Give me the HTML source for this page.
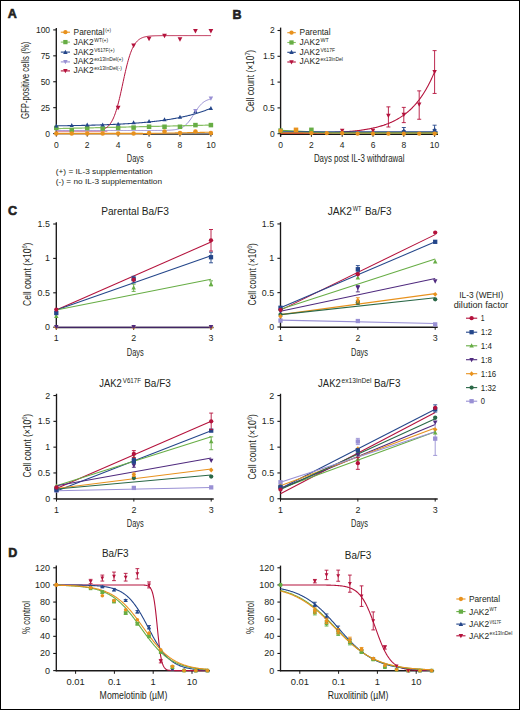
<!DOCTYPE html>
<html><head><meta charset="utf-8"><style>
html,body{margin:0;padding:0;background:#fff;}
body{width:520px;height:710px;overflow:hidden;}
svg{display:block;font-family:"Liberation Sans", sans-serif;}
text.b{stroke:#231f20;stroke-width:0.6px;}
</style></head><body>
<svg width="520" height="710" viewBox="0 0 520 710">
<rect x="0" y="0" width="520" height="710" fill="#fff"/>
<g fill="#231f20">
<text x="7.7" y="17.8" font-size="12.5" font-weight="bold" class="b">A</text>
<text x="232.5" y="18.7" font-size="12.5" font-weight="bold" class="b">B</text>
<text x="8" y="214.5" font-size="12.5" font-weight="bold" class="b">C</text>
<text x="8.2" y="557" font-size="12.5" font-weight="bold" class="b">D</text>
<line x1="56.3" y1="28" x2="56.3" y2="134.5" stroke="#1a1818" stroke-width="1.35"/>
<line x1="53.2" y1="133.6" x2="56.3" y2="133.6" stroke="#1a1818" stroke-width="1.1"/>
<text x="50.1" y="136.7" font-size="8.5" text-anchor="end">0</text>
<line x1="53.2" y1="107.67" x2="56.3" y2="107.67" stroke="#1a1818" stroke-width="1.1"/>
<text x="50.1" y="110.77" font-size="8.5" text-anchor="end">25</text>
<line x1="53.2" y1="81.75" x2="56.3" y2="81.75" stroke="#1a1818" stroke-width="1.1"/>
<text x="50.1" y="84.85" font-size="8.5" text-anchor="end">50</text>
<line x1="53.2" y1="55.83" x2="56.3" y2="55.83" stroke="#1a1818" stroke-width="1.1"/>
<text x="50.1" y="58.93" font-size="8.5" text-anchor="end">75</text>
<line x1="53.2" y1="29.9" x2="56.3" y2="29.9" stroke="#1a1818" stroke-width="1.1"/>
<text x="50.1" y="33" font-size="8.5" text-anchor="end">100</text>
<line x1="142.88" y1="134.1" x2="213" y2="134.1" stroke="#1a1818" stroke-width="1.3"/>
<line x1="55.6" y1="133.9" x2="142.88" y2="133.9" stroke="#1a1818" stroke-width="0.8"/>
<line x1="56.3" y1="134" x2="56.3" y2="136.6" stroke="#1a1818" stroke-width="1"/>
<text x="56.3" y="147.7" font-size="8.5" text-anchor="middle">0</text>
<line x1="87.22" y1="134" x2="87.22" y2="136.6" stroke="#1a1818" stroke-width="1"/>
<text x="87.22" y="147.7" font-size="8.5" text-anchor="middle">2</text>
<line x1="118.14" y1="134" x2="118.14" y2="136.6" stroke="#1a1818" stroke-width="1"/>
<text x="118.14" y="147.7" font-size="8.5" text-anchor="middle">4</text>
<line x1="149.06" y1="134" x2="149.06" y2="136.6" stroke="#1a1818" stroke-width="1"/>
<text x="149.06" y="147.7" font-size="8.5" text-anchor="middle">6</text>
<line x1="179.98" y1="134" x2="179.98" y2="136.6" stroke="#1a1818" stroke-width="1"/>
<text x="179.98" y="147.7" font-size="8.5" text-anchor="middle">8</text>
<line x1="210.9" y1="134" x2="210.9" y2="136.6" stroke="#1a1818" stroke-width="1"/>
<text x="210.9" y="147.7" font-size="8.5" text-anchor="middle">10</text>
<text x="135.3" y="161.6" font-size="10.5" text-anchor="middle" textLength="17" lengthAdjust="spacingAndGlyphs">Days</text>
<g transform="translate(29.4,119.1) rotate(-90)">
<text x="0" y="0" font-size="10.5" textLength="77.5" lengthAdjust="spacingAndGlyphs">GFP-positive cells (%)</text>
</g>
<path d="M56.3,131.21 L56.56,131.21 L56.81,131.21 L57.07,131.21 L57.32,131.21 L57.58,131.21 L57.83,131.21 L58.09,131.21 L58.34,131.21 L58.6,131.21 L58.85,131.21 L59.11,131.21 L59.36,131.21 L59.62,131.21 L59.87,131.21 L60.13,131.21 L60.38,131.21 L60.64,131.21 L60.89,131.21 L61.15,131.21 L61.4,131.21 L61.66,131.21 L61.91,131.21 L62.17,131.21 L62.42,131.21 L62.68,131.21 L62.93,131.21 L63.19,131.21 L63.44,131.21 L63.7,131.21 L63.95,131.21 L64.21,131.21 L64.46,131.21 L64.72,131.21 L64.97,131.21 L65.23,131.21 L65.48,131.21 L65.74,131.21 L65.99,131.21 L66.25,131.21 L66.5,131.21 L66.76,131.21 L67.01,131.21 L67.27,131.21 L67.52,131.21 L67.78,131.21 L68.03,131.21 L68.29,131.21 L68.54,131.21 L68.8,131.21 L69.05,131.21 L69.31,131.21 L69.56,131.21 L69.82,131.21 L70.07,131.21 L70.33,131.21 L70.59,131.21 L70.84,131.21 L71.1,131.21 L71.35,131.21 L71.61,131.21 L71.86,131.21 L72.12,131.21 L72.37,131.21 L72.63,131.21 L72.88,131.21 L73.14,131.21 L73.39,131.21 L73.65,131.21 L73.9,131.21 L74.16,131.21 L74.41,131.21 L74.67,131.21 L74.92,131.21 L75.18,131.21 L75.43,131.21 L75.69,131.21 L75.94,131.21 L76.2,131.21 L76.45,131.21 L76.71,131.21 L76.96,131.21 L77.22,131.21 L77.47,131.21 L77.73,131.21 L77.98,131.21 L78.24,131.21 L78.49,131.21 L78.75,131.21 L79,131.21 L79.26,131.21 L79.51,131.21 L79.77,131.21 L80.02,131.21 L80.28,131.21 L80.53,131.21 L80.79,131.21 L81.04,131.21 L81.3,131.21 L81.55,131.21 L81.81,131.21 L82.06,131.21 L82.32,131.21 L82.57,131.21 L82.83,131.21 L83.08,131.21 L83.34,131.21 L83.59,131.21 L83.85,131.21 L84.1,131.21 L84.36,131.21 L84.61,131.21 L84.87,131.21 L85.13,131.21 L85.38,131.21 L85.64,131.21 L85.89,131.21 L86.15,131.21 L86.4,131.21 L86.66,131.21 L86.91,131.21 L87.17,131.21 L87.42,131.21 L87.68,131.21 L87.93,131.21 L88.19,131.21 L88.44,131.21 L88.7,131.21 L88.95,131.21 L89.21,131.21 L89.46,131.21 L89.72,131.21 L89.97,131.21 L90.23,131.21 L90.48,131.21 L90.74,131.21 L90.99,131.21 L91.25,131.21 L91.5,131.21 L91.76,131.21 L92.01,131.21 L92.27,131.21 L92.52,131.21 L92.78,131.21 L93.03,131.21 L93.29,131.21 L93.54,131.21 L93.8,131.21 L94.05,131.21 L94.31,131.21 L94.56,131.21 L94.82,131.21 L95.07,131.21 L95.33,131.21 L95.58,131.21 L95.84,131.21 L96.09,131.21 L96.35,131.21 L96.6,131.21 L96.86,131.21 L97.11,131.21 L97.37,131.21 L97.62,131.21 L97.88,131.21 L98.13,131.21 L98.39,131.21 L98.64,131.21 L98.9,131.21 L99.16,131.21 L99.41,131.21 L99.67,131.21 L99.92,131.21 L100.18,131.21 L100.43,131.21 L100.69,131.21 L100.94,131.21 L101.2,131.21 L101.45,131.21 L101.71,131.21 L101.96,131.21 L102.22,131.21 L102.47,131.21 L102.73,131.21 L102.98,131.21 L103.24,131.21 L103.49,131.21 L103.75,131.21 L104,131.21 L104.26,131.21 L104.51,131.21 L104.77,131.21 L105.02,131.21 L105.28,131.21 L105.53,131.21 L105.79,131.21 L106.04,131.21 L106.3,131.21 L106.55,131.21 L106.81,131.21 L107.06,131.21 L107.32,131.21" fill="none" stroke="#c0406a" stroke-width="1" stroke-linejoin="round"/>
<path d="M56.3,130.49 L57.07,130.49 L57.85,130.49 L58.62,130.49 L59.39,130.49 L60.16,130.49 L60.94,130.49 L61.71,130.49 L62.48,130.49 L63.26,130.49 L64.03,130.49 L64.8,130.49 L65.58,130.49 L66.35,130.49 L67.12,130.49 L67.89,130.49 L68.67,130.49 L69.44,130.49 L70.21,130.49 L70.99,130.49 L71.76,130.49 L72.53,130.49 L73.31,130.49 L74.08,130.49 L74.85,130.49 L75.62,130.49 L76.4,130.49 L77.17,130.49 L77.94,130.49 L78.72,130.49 L79.49,130.49 L80.26,130.49 L81.04,130.49 L81.81,130.49 L82.58,130.49 L83.35,130.49 L84.13,130.49 L84.9,130.49 L85.67,130.49 L86.45,130.49 L87.22,130.49 L87.99,130.49 L88.77,130.49 L89.54,130.49 L90.31,130.49 L91.09,130.49 L91.86,130.49 L92.63,130.49 L93.4,130.49 L94.18,130.49 L94.95,130.49 L95.72,130.49 L96.5,130.49 L97.27,130.49 L98.04,130.49 L98.81,130.49 L99.59,130.49 L100.36,130.49 L101.13,130.49 L101.91,130.49 L102.68,130.49 L103.45,130.49 L104.23,130.49 L105,130.49 L105.77,130.49 L106.55,130.49 L107.32,130.49 L108.09,130.49 L108.86,130.49 L109.64,130.49 L110.41,130.49 L111.18,130.49 L111.96,130.49 L112.73,130.49 L113.5,130.49 L114.28,130.49 L115.05,130.49 L115.82,130.49 L116.59,130.49 L117.37,130.49 L118.14,130.49 L118.91,130.49 L119.69,130.49 L120.46,130.49 L121.23,130.49 L122,130.49 L122.78,130.49 L123.55,130.49 L124.32,130.49 L125.1,130.49 L125.87,130.49 L126.64,130.49 L127.42,130.49 L128.19,130.49 L128.96,130.49 L129.74,130.49 L130.51,130.49 L131.28,130.49 L132.05,130.49 L132.83,130.49 L133.6,130.49 L134.37,130.49 L135.15,130.49 L135.92,130.49 L136.69,130.49 L137.47,130.49 L138.24,130.49 L139.01,130.49 L139.78,130.49 L140.56,130.49 L141.33,130.49 L142.1,130.49 L142.88,130.49 L143.65,130.49 L144.42,130.49 L145.19,130.49 L145.97,130.49 L146.74,130.49 L147.51,130.48 L148.29,130.48 L149.06,130.48 L149.83,130.48 L150.61,130.48 L151.38,130.48 L152.15,130.48 L152.93,130.48 L153.7,130.48 L154.47,130.47 L155.24,130.47 L156.02,130.47 L156.79,130.46 L157.56,130.46 L158.34,130.46 L159.11,130.45 L159.88,130.44 L160.66,130.44 L161.43,130.43 L162.2,130.42 L162.97,130.41 L163.75,130.4 L164.52,130.38 L165.29,130.36 L166.07,130.34 L166.84,130.32 L167.61,130.29 L168.38,130.26 L169.16,130.22 L169.93,130.18 L170.7,130.13 L171.48,130.07 L172.25,130.01 L173.02,129.93 L173.8,129.84 L174.57,129.74 L175.34,129.62 L176.12,129.48 L176.89,129.33 L177.66,129.15 L178.43,128.94 L179.21,128.7 L179.98,128.43 L180.75,128.12 L181.53,127.77 L182.3,127.37 L183.07,126.93 L183.84,126.42 L184.62,125.86 L185.39,125.23 L186.16,124.53 L186.94,123.76 L187.71,122.93 L188.48,122.02 L189.26,121.05 L190.03,120.01 L190.8,118.91 L191.57,117.77 L192.35,116.59 L193.12,115.38 L193.89,114.16 L194.67,112.93 L195.44,111.72 L196.21,110.54 L196.99,109.4 L197.76,108.3 L198.53,107.27 L199.31,106.29 L200.08,105.38 L200.85,104.55 L201.62,103.78 L202.4,103.09 L203.17,102.46 L203.94,101.89 L204.72,101.39 L205.49,100.94 L206.26,100.54 L207.04,100.19 L207.81,99.88 L208.58,99.61 L209.35,99.37 L210.13,99.17 L210.9,98.99" fill="none" stroke="#9990d4" stroke-width="1" stroke-linejoin="round"/>
<path d="M56.3,128.62 L57.07,128.6 L57.85,128.59 L58.62,128.57 L59.39,128.55 L60.16,128.53 L60.94,128.52 L61.71,128.5 L62.48,128.48 L63.26,128.46 L64.03,128.45 L64.8,128.43 L65.58,128.41 L66.35,128.39 L67.12,128.38 L67.89,128.36 L68.67,128.34 L69.44,128.32 L70.21,128.31 L70.99,128.29 L71.76,128.27 L72.53,128.25 L73.31,128.23 L74.08,128.22 L74.85,128.2 L75.62,128.18 L76.4,128.16 L77.17,128.15 L77.94,128.13 L78.72,128.11 L79.49,128.09 L80.26,128.08 L81.04,128.06 L81.81,128.04 L82.58,128.02 L83.35,128.01 L84.13,127.99 L84.9,127.97 L85.67,127.95 L86.45,127.93 L87.22,127.92 L87.99,127.9 L88.77,127.88 L89.54,127.86 L90.31,127.85 L91.09,127.83 L91.86,127.81 L92.63,127.79 L93.4,127.78 L94.18,127.76 L94.95,127.74 L95.72,127.72 L96.5,127.71 L97.27,127.69 L98.04,127.67 L98.81,127.65 L99.59,127.64 L100.36,127.62 L101.13,127.6 L101.91,127.58 L102.68,127.56 L103.45,127.55 L104.23,127.53 L105,127.51 L105.77,127.49 L106.55,127.48 L107.32,127.46 L108.09,127.44 L108.86,127.42 L109.64,127.41 L110.41,127.39 L111.18,127.37 L111.96,127.35 L112.73,127.34 L113.5,127.32 L114.28,127.3 L115.05,127.28 L115.82,127.26 L116.59,127.25 L117.37,127.23 L118.14,127.21 L118.91,127.19 L119.69,127.18 L120.46,127.16 L121.23,127.14 L122,127.12 L122.78,127.11 L123.55,127.09 L124.32,127.07 L125.1,127.05 L125.87,127.04 L126.64,127.02 L127.42,127 L128.19,126.98 L128.96,126.97 L129.74,126.95 L130.51,126.93 L131.28,126.91 L132.05,126.89 L132.83,126.88 L133.6,126.86 L134.37,126.84 L135.15,126.82 L135.92,126.81 L136.69,126.79 L137.47,126.77 L138.24,126.75 L139.01,126.74 L139.78,126.72 L140.56,126.7 L141.33,126.68 L142.1,126.67 L142.88,126.65 L143.65,126.63 L144.42,126.61 L145.19,126.6 L145.97,126.58 L146.74,126.56 L147.51,126.54 L148.29,126.52 L149.06,126.51 L149.83,126.49 L150.61,126.47 L151.38,126.45 L152.15,126.44 L152.93,126.42 L153.7,126.4 L154.47,126.38 L155.24,126.37 L156.02,126.35 L156.79,126.33 L157.56,126.31 L158.34,126.3 L159.11,126.28 L159.88,126.26 L160.66,126.24 L161.43,126.22 L162.2,126.21 L162.97,126.19 L163.75,126.17 L164.52,126.15 L165.29,126.14 L166.07,126.12 L166.84,126.1 L167.61,126.08 L168.38,126.07 L169.16,126.05 L169.93,126.03 L170.7,126.01 L171.48,126 L172.25,125.98 L173.02,125.96 L173.8,125.94 L174.57,125.93 L175.34,125.91 L176.12,125.89 L176.89,125.87 L177.66,125.85 L178.43,125.84 L179.21,125.82 L179.98,125.8 L180.75,125.78 L181.53,125.77 L182.3,125.75 L183.07,125.73 L183.84,125.71 L184.62,125.7 L185.39,125.68 L186.16,125.66 L186.94,125.64 L187.71,125.63 L188.48,125.61 L189.26,125.59 L190.03,125.57 L190.8,125.55 L191.57,125.54 L192.35,125.52 L193.12,125.5 L193.89,125.48 L194.67,125.47 L195.44,125.45 L196.21,125.43 L196.99,125.41 L197.76,125.4 L198.53,125.38 L199.31,125.36 L200.08,125.34 L200.85,125.33 L201.62,125.31 L202.4,125.29 L203.17,125.27 L203.94,125.26 L204.72,125.24 L205.49,125.22 L206.26,125.2 L207.04,125.18 L207.81,125.17 L208.58,125.15 L209.35,125.13 L210.13,125.11 L210.9,125.1" fill="none" stroke="#86c063" stroke-width="1.2" stroke-linejoin="round"/>
<path d="M56.3,125.82 L57.07,125.81 L57.85,125.8 L58.62,125.79 L59.39,125.78 L60.16,125.77 L60.94,125.76 L61.71,125.75 L62.48,125.74 L63.26,125.73 L64.03,125.72 L64.8,125.71 L65.58,125.7 L66.35,125.69 L67.12,125.68 L67.89,125.66 L68.67,125.65 L69.44,125.64 L70.21,125.63 L70.99,125.61 L71.76,125.6 L72.53,125.59 L73.31,125.57 L74.08,125.56 L74.85,125.55 L75.62,125.53 L76.4,125.52 L77.17,125.5 L77.94,125.49 L78.72,125.47 L79.49,125.46 L80.26,125.44 L81.04,125.43 L81.81,125.41 L82.58,125.39 L83.35,125.38 L84.13,125.36 L84.9,125.34 L85.67,125.32 L86.45,125.3 L87.22,125.29 L87.99,125.27 L88.77,125.25 L89.54,125.23 L90.31,125.21 L91.09,125.19 L91.86,125.17 L92.63,125.15 L93.4,125.13 L94.18,125.1 L94.95,125.08 L95.72,125.06 L96.5,125.04 L97.27,125.01 L98.04,124.99 L98.81,124.96 L99.59,124.94 L100.36,124.91 L101.13,124.89 L101.91,124.86 L102.68,124.84 L103.45,124.81 L104.23,124.78 L105,124.75 L105.77,124.73 L106.55,124.7 L107.32,124.67 L108.09,124.64 L108.86,124.61 L109.64,124.58 L110.41,124.54 L111.18,124.51 L111.96,124.48 L112.73,124.45 L113.5,124.41 L114.28,124.38 L115.05,124.34 L115.82,124.31 L116.59,124.27 L117.37,124.23 L118.14,124.2 L118.91,124.16 L119.69,124.12 L120.46,124.08 L121.23,124.04 L122,124 L122.78,123.95 L123.55,123.91 L124.32,123.87 L125.1,123.82 L125.87,123.78 L126.64,123.73 L127.42,123.69 L128.19,123.64 L128.96,123.59 L129.74,123.54 L130.51,123.49 L131.28,123.44 L132.05,123.39 L132.83,123.34 L133.6,123.28 L134.37,123.23 L135.15,123.17 L135.92,123.11 L136.69,123.06 L137.47,123 L138.24,122.94 L139.01,122.88 L139.78,122.81 L140.56,122.75 L141.33,122.69 L142.1,122.62 L142.88,122.56 L143.65,122.49 L144.42,122.42 L145.19,122.35 L145.97,122.28 L146.74,122.2 L147.51,122.13 L148.29,122.05 L149.06,121.98 L149.83,121.9 L150.61,121.82 L151.38,121.74 L152.15,121.66 L152.93,121.57 L153.7,121.49 L154.47,121.4 L155.24,121.31 L156.02,121.22 L156.79,121.13 L157.56,121.04 L158.34,120.94 L159.11,120.85 L159.88,120.75 L160.66,120.65 L161.43,120.54 L162.2,120.44 L162.97,120.34 L163.75,120.23 L164.52,120.12 L165.29,120.01 L166.07,119.89 L166.84,119.78 L167.61,119.66 L168.38,119.54 L169.16,119.42 L169.93,119.3 L170.7,119.17 L171.48,119.04 L172.25,118.91 L173.02,118.78 L173.8,118.64 L174.57,118.5 L175.34,118.36 L176.12,118.22 L176.89,118.07 L177.66,117.93 L178.43,117.78 L179.21,117.62 L179.98,117.47 L180.75,117.31 L181.53,117.15 L182.3,116.98 L183.07,116.81 L183.84,116.64 L184.62,116.47 L185.39,116.29 L186.16,116.11 L186.94,115.93 L187.71,115.74 L188.48,115.55 L189.26,115.36 L190.03,115.16 L190.8,114.96 L191.57,114.76 L192.35,114.55 L193.12,114.34 L193.89,114.13 L194.67,113.91 L195.44,113.68 L196.21,113.46 L196.99,113.23 L197.76,112.99 L198.53,112.75 L199.31,112.51 L200.08,112.26 L200.85,112.01 L201.62,111.75 L202.4,111.49 L203.17,111.23 L203.94,110.96 L204.72,110.68 L205.49,110.4 L206.26,110.11 L207.04,109.82 L207.81,109.53 L208.58,109.23 L209.35,108.92 L210.13,108.61 L210.9,108.29" fill="none" stroke="#24468a" stroke-width="1.1" stroke-linejoin="round"/>
<path d="M102.68,129.62 L103.22,129.42 L103.76,129.19 L104.3,128.94 L104.84,128.66 L105.39,128.35 L105.93,128.01 L106.47,127.64 L107.01,127.23 L107.55,126.78 L108.09,126.28 L108.63,125.74 L109.17,125.14 L109.71,124.48 L110.26,123.76 L110.8,122.98 L111.34,122.13 L111.88,121.2 L112.42,120.19 L112.96,119.1 L113.5,117.92 L114.04,116.65 L114.58,115.28 L115.13,113.81 L115.67,112.24 L116.21,110.58 L116.75,108.81 L117.29,106.94 L117.83,104.97 L118.37,102.9 L118.91,100.75 L119.45,98.52 L120,96.21 L120.54,93.83 L121.08,91.41 L121.62,88.94 L122.16,86.44 L122.7,83.92 L123.24,81.41 L123.78,78.9 L124.32,76.42 L124.87,73.98 L125.41,71.59 L125.95,69.26 L126.49,67.01 L127.03,64.83 L127.57,62.74 L128.11,60.75 L128.65,58.85 L129.19,57.05 L129.74,55.35 L130.28,53.76 L130.82,52.26 L131.36,50.86 L131.9,49.56 L132.44,48.36 L132.98,47.24 L133.52,46.21 L134.06,45.26 L134.6,44.38 L135.15,43.58 L135.69,42.85 L136.23,42.17 L136.77,41.56 L137.31,41 L137.85,40.49 L138.39,40.02 L138.93,39.6 L139.47,39.22 L140.02,38.87 L140.56,38.55 L141.1,38.27 L141.64,38.01 L142.18,37.78 L142.72,37.56 L143.26,37.37 L143.8,37.2 L144.34,37.04 L144.89,36.9 L145.43,36.77 L145.97,36.66 L146.51,36.55 L147.05,36.46 L147.59,36.37 L148.13,36.3 L148.67,36.23 L149.21,36.17 L149.76,36.11 L150.3,36.06 L150.84,36.02 L151.38,35.97 L151.92,35.94 L152.46,35.9 L153,35.87 L153.54,35.85 L154.08,35.82 L154.63,35.8 L155.17,35.78 L155.71,35.76 L156.25,35.75 L156.79,35.73 L157.33,35.72 L157.87,35.71 L158.41,35.7 L158.95,35.69 L159.5,35.68 L160.04,35.67 L160.58,35.67 L161.12,35.66 L161.66,35.65 L162.2,35.65 L162.74,35.64 L163.28,35.64 L163.82,35.64 L164.37,35.63 L164.91,35.63 L165.45,35.63 L165.99,35.63 L166.53,35.62 L167.07,35.62 L167.61,35.62 L168.15,35.62 L168.69,35.62 L169.24,35.62 L169.78,35.61 L170.32,35.61 L170.86,35.61 L171.4,35.61 L171.94,35.61 L172.48,35.61 L173.02,35.61 L173.56,35.61 L174.11,35.61 L174.65,35.61 L175.19,35.61 L175.73,35.61 L176.27,35.61 L176.81,35.61 L177.35,35.61 L177.89,35.61 L178.43,35.61 L178.98,35.61 L179.52,35.61 L180.06,35.6 L180.6,35.6 L181.14,35.6 L181.68,35.6 L182.22,35.6 L182.76,35.6 L183.3,35.6 L183.84,35.6 L184.39,35.6 L184.93,35.6 L185.47,35.6 L186.01,35.6 L186.55,35.6 L187.09,35.6 L187.63,35.6 L188.17,35.6 L188.71,35.6 L189.26,35.6 L189.8,35.6 L190.34,35.6 L190.88,35.6 L191.42,35.6 L191.96,35.6 L192.5,35.6 L193.04,35.6 L193.58,35.6 L194.13,35.6 L194.67,35.6 L195.21,35.6 L195.75,35.6 L196.29,35.6 L196.83,35.6 L197.37,35.6 L197.91,35.6 L198.45,35.6 L199,35.6 L199.54,35.6 L200.08,35.6 L200.62,35.6 L201.16,35.6 L201.7,35.6 L202.24,35.6 L202.78,35.6 L203.32,35.6 L203.87,35.6 L204.41,35.6 L204.95,35.6 L205.49,35.6 L206.03,35.6 L206.57,35.6 L207.11,35.6 L207.65,35.6 L208.19,35.6 L208.74,35.6 L209.28,35.6 L209.82,35.6 L210.36,35.6 L210.9,35.6" fill="none" stroke="#b4123c" stroke-width="1" stroke-linejoin="round"/>
<path d="M56.3,133.6 L56.73,133.6 L57.17,133.6 L57.6,133.6 L58.03,133.6 L58.46,133.6 L58.9,133.6 L59.33,133.6 L59.76,133.6 L60.2,133.6 L60.63,133.6 L61.06,133.6 L61.49,133.6 L61.93,133.6 L62.36,133.6 L62.79,133.6 L63.23,133.6 L63.66,133.6 L64.09,133.6 L64.52,133.6 L64.96,133.6 L65.39,133.6 L65.82,133.6 L66.26,133.6 L66.69,133.6 L67.12,133.6 L67.55,133.6 L67.99,133.6 L68.42,133.6 L68.85,133.6 L69.29,133.6 L69.72,133.6 L70.15,133.6 L70.59,133.6 L71.02,133.6 L71.45,133.6 L71.88,133.6 L72.32,133.6 L72.75,133.6 L73.18,133.6 L73.62,133.6 L74.05,133.6 L74.48,133.6 L74.91,133.6 L75.35,133.6 L75.78,133.6 L76.21,133.6 L76.65,133.6 L77.08,133.6 L77.51,133.6 L77.94,133.6 L78.38,133.6 L78.81,133.6 L79.24,133.6 L79.68,133.6 L80.11,133.6 L80.54,133.6 L80.97,133.6 L81.41,133.6 L81.84,133.6 L82.27,133.6 L82.71,133.6 L83.14,133.6 L83.57,133.6 L84,133.6 L84.44,133.6 L84.87,133.6 L85.3,133.6 L85.74,133.6 L86.17,133.6 L86.6,133.6 L87.03,133.6 L87.47,133.6 L87.9,133.6 L88.33,133.6 L88.77,133.6 L89.2,133.6 L89.63,133.6 L90.06,133.6 L90.5,133.6 L90.93,133.6 L91.36,133.6 L91.8,133.6 L92.23,133.6 L92.66,133.6 L93.09,133.6 L93.53,133.6 L93.96,133.6 L94.39,133.6 L94.83,133.6 L95.26,133.6 L95.69,133.6 L96.12,133.6 L96.56,133.6 L96.99,133.6 L97.42,133.6 L97.86,133.6 L98.29,133.6 L98.72,133.6 L99.16,133.6 L99.59,133.6 L100.02,133.6 L100.45,133.6 L100.89,133.6 L101.32,133.6 L101.75,133.6 L102.19,133.6 L102.62,133.6 L103.05,133.6 L103.48,133.6 L103.92,133.6 L104.35,133.6 L104.78,133.6 L105.22,133.6 L105.65,133.6 L106.08,133.6 L106.51,133.6 L106.95,133.6 L107.38,133.6 L107.81,133.6 L108.25,133.6 L108.68,133.6 L109.11,133.6 L109.54,133.6 L109.98,133.6 L110.41,133.6 L110.84,133.6 L111.28,133.6 L111.71,133.6 L112.14,133.6 L112.57,133.6 L113.01,133.6 L113.44,133.6 L113.87,133.6 L114.31,133.6 L114.74,133.6 L115.17,133.6 L115.6,133.6 L116.04,133.6 L116.47,133.6 L116.9,133.6 L117.34,133.6 L117.77,133.6 L118.2,133.6 L118.63,133.6 L119.07,133.6 L119.5,133.6 L119.93,133.6 L120.37,133.6 L120.8,133.6 L121.23,133.6 L121.66,133.6 L122.1,133.6 L122.53,133.6 L122.96,133.6 L123.4,133.6 L123.83,133.6 L124.26,133.6 L124.7,133.6 L125.13,133.6 L125.56,133.6 L125.99,133.6 L126.43,133.6 L126.86,133.6 L127.29,133.6 L127.73,133.6 L128.16,133.6 L128.59,133.6 L129.02,133.6 L129.46,133.6 L129.89,133.6 L130.32,133.6 L130.76,133.6 L131.19,133.6 L131.62,133.6 L132.05,133.6 L132.49,133.6 L132.92,133.6 L133.35,133.6 L133.79,133.6 L134.22,133.6 L134.65,133.6 L135.08,133.6 L135.52,133.6 L135.95,133.6 L136.38,133.6 L136.82,133.6 L137.25,133.6 L137.68,133.6 L138.11,133.6 L138.55,133.6 L138.98,133.6 L139.41,133.6 L139.85,133.6 L140.28,133.6 L140.71,133.6 L141.14,133.6 L141.58,133.6 L142.01,133.59 L142.44,133.58 L142.88,133.57" fill="none" stroke="#e8921e" stroke-width="1.5" stroke-linejoin="round"/>
<path d="M139.78,133.6 L140.14,133.6 L140.5,133.6 L140.85,133.6 L141.21,133.6 L141.56,133.6 L141.92,133.59 L142.27,133.58 L142.63,133.57 L142.98,133.57 L143.34,133.56 L143.7,133.55 L144.05,133.55 L144.41,133.54 L144.76,133.53 L145.12,133.52 L145.47,133.52 L145.83,133.51 L146.18,133.5 L146.54,133.5 L146.9,133.49 L147.25,133.48 L147.61,133.47 L147.96,133.47 L148.32,133.46 L148.67,133.45 L149.03,133.45 L149.38,133.44 L149.74,133.43 L150.1,133.42 L150.45,133.42 L150.81,133.41 L151.16,133.4 L151.52,133.39 L151.87,133.39 L152.23,133.38 L152.58,133.37 L152.94,133.37 L153.3,133.36 L153.65,133.35 L154.01,133.34 L154.36,133.34 L154.72,133.33 L155.07,133.32 L155.43,133.32 L155.79,133.31 L156.14,133.3 L156.5,133.29 L156.85,133.29 L157.21,133.28 L157.56,133.27 L157.92,133.27 L158.27,133.26 L158.63,133.25 L158.99,133.24 L159.34,133.24 L159.7,133.23 L160.05,133.22 L160.41,133.22 L160.76,133.21 L161.12,133.2 L161.47,133.19 L161.83,133.19 L162.19,133.18 L162.54,133.17 L162.9,133.17 L163.25,133.16 L163.61,133.15 L163.96,133.14 L164.32,133.14 L164.67,133.13 L165.03,133.12 L165.39,133.12 L165.74,133.11 L166.1,133.1 L166.45,133.09 L166.81,133.09 L167.16,133.08 L167.52,133.07 L167.87,133.07 L168.23,133.06 L168.59,133.05 L168.94,133.04 L169.3,133.04 L169.65,133.03 L170.01,133.02 L170.36,133.02 L170.72,133.01 L171.08,133 L171.43,132.99 L171.79,132.99 L172.14,132.98 L172.5,132.97 L172.85,132.97 L173.21,132.96 L173.56,132.95 L173.92,132.94 L174.28,132.94 L174.63,132.93 L174.99,132.92 L175.34,132.92 L175.7,132.91 L176.05,132.9 L176.41,132.89 L176.76,132.89 L177.12,132.88 L177.48,132.87 L177.83,132.87 L178.19,132.86 L178.54,132.85 L178.9,132.84 L179.25,132.84 L179.61,132.83 L179.96,132.82 L180.32,132.82 L180.68,132.81 L181.03,132.8 L181.39,132.79 L181.74,132.79 L182.1,132.78 L182.45,132.77 L182.81,132.77 L183.16,132.76 L183.52,132.75 L183.88,132.74 L184.23,132.74 L184.59,132.73 L184.94,132.72 L185.3,132.72 L185.65,132.71 L186.01,132.7 L186.36,132.69 L186.72,132.69 L187.08,132.68 L187.43,132.67 L187.79,132.67 L188.14,132.66 L188.5,132.65 L188.85,132.64 L189.21,132.64 L189.57,132.63 L189.92,132.62 L190.28,132.62 L190.63,132.61 L190.99,132.6 L191.34,132.59 L191.7,132.59 L192.05,132.58 L192.41,132.57 L192.77,132.56 L193.12,132.56 L193.48,132.55 L193.83,132.54 L194.19,132.54 L194.54,132.53 L194.9,132.52 L195.25,132.51 L195.61,132.51 L195.97,132.5 L196.32,132.49 L196.68,132.49 L197.03,132.48 L197.39,132.47 L197.74,132.46 L198.1,132.46 L198.45,132.45 L198.81,132.44 L199.17,132.44 L199.52,132.43 L199.88,132.42 L200.23,132.41 L200.59,132.41 L200.94,132.4 L201.3,132.39 L201.65,132.39 L202.01,132.38 L202.37,132.37 L202.72,132.36 L203.08,132.36 L203.43,132.35 L203.79,132.34 L204.14,132.34 L204.5,132.33 L204.86,132.32 L205.21,132.31 L205.57,132.31 L205.92,132.3 L206.28,132.29 L206.63,132.29 L206.99,132.28 L207.34,132.27 L207.7,132.26 L208.06,132.26 L208.41,132.25 L208.77,132.24 L209.12,132.24 L209.48,132.23 L209.83,132.22 L210.19,132.21 L210.54,132.21 L210.9,132.2" fill="none" stroke="#e8921e" stroke-width="1.1" stroke-linejoin="round"/>
<rect x="54.04" y="125.64" width="4.52" height="4.52" fill="#67ad45"/>
<rect x="69.5" y="127.81" width="4.52" height="4.52" fill="#67ad45"/>
<rect x="84.96" y="125.84" width="4.52" height="4.52" fill="#67ad45"/>
<rect x="100.42" y="126.26" width="4.52" height="4.52" fill="#67ad45"/>
<rect x="115.88" y="125.64" width="4.52" height="4.52" fill="#67ad45"/>
<rect x="131.34" y="125.33" width="4.52" height="4.52" fill="#67ad45"/>
<rect x="146.8" y="124.5" width="4.52" height="4.52" fill="#67ad45"/>
<rect x="162.26" y="124.5" width="4.52" height="4.52" fill="#67ad45"/>
<rect x="177.72" y="124.5" width="4.52" height="4.52" fill="#67ad45"/>
<rect x="193.18" y="122.84" width="4.52" height="4.52" fill="#67ad45"/>
<rect x="208.64" y="122.84" width="4.52" height="4.52" fill="#67ad45"/>
<path d="M56.3,123.65 L58.38,127.61 L54.22,127.61 Z" fill="#24468a"/>
<path d="M71.76,123.03 L73.84,126.98 L69.68,126.98 Z" fill="#24468a"/>
<path d="M87.22,122.62 L89.3,126.57 L85.14,126.57 Z" fill="#24468a"/>
<path d="M102.68,122.51 L104.76,126.47 L100.6,126.47 Z" fill="#24468a"/>
<path d="M118.14,121.68 L120.22,125.64 L116.06,125.64 Z" fill="#24468a"/>
<path d="M133.6,120.33 L135.68,124.29 L131.52,124.29 Z" fill="#24468a"/>
<path d="M149.06,119.09 L151.14,123.04 L146.98,123.04 Z" fill="#24468a"/>
<path d="M164.52,117.33 L166.6,121.28 L162.44,121.28 Z" fill="#24468a"/>
<path d="M179.98,114.73 L182.06,118.69 L177.9,118.69 Z" fill="#24468a"/>
<path d="M195.44,109.03 L197.52,112.99 L193.36,112.99 Z" fill="#24468a"/>
<path d="M210.9,106.02 L212.98,109.98 L208.82,109.98 Z" fill="#24468a"/>
<path d="M195.44,113.26 L197.69,108.96 L193.19,108.96 Z" fill="#9990d4"/>
<path d="M210.9,100.81 L213.15,96.52 L208.65,96.52 Z" fill="#9990d4"/>
<path d="M118.14,110.27 L120.51,105.75 L115.77,105.75 Z" fill="#b4123c"/>
<path d="M133.6,48.05 L135.97,43.53 L131.23,43.53 Z" fill="#b4123c"/>
<path d="M149.06,41.31 L151.43,36.79 L146.69,36.79 Z" fill="#b4123c"/>
<path d="M164.52,38.2 L166.89,33.68 L162.15,33.68 Z" fill="#b4123c"/>
<path d="M179.98,41.83 L182.35,37.31 L177.61,37.31 Z" fill="#b4123c"/>
<path d="M195.44,33.54 L197.81,29.02 L193.07,29.02 Z" fill="#b4123c"/>
<path d="M210.9,33.54 L213.27,29.02 L208.53,29.02 Z" fill="#b4123c"/>
<circle cx="56.3" cy="133.6" r="2.26" fill="#e8921e"/>
<circle cx="71.76" cy="133.6" r="2.26" fill="#e8921e"/>
<circle cx="87.22" cy="133.6" r="2.26" fill="#e8921e"/>
<circle cx="102.68" cy="133.6" r="2.26" fill="#e8921e"/>
<circle cx="118.14" cy="133.6" r="2.26" fill="#e8921e"/>
<circle cx="133.6" cy="133.6" r="2.26" fill="#e8921e"/>
<circle cx="149.06" cy="133.08" r="2.26" fill="#e8921e"/>
<circle cx="164.52" cy="131.53" r="2.26" fill="#e8921e"/>
<circle cx="179.98" cy="132.98" r="2.26" fill="#e8921e"/>
<circle cx="195.44" cy="131.53" r="2.26" fill="#e8921e"/>
<circle cx="210.9" cy="132.98" r="2.26" fill="#e8921e"/>
<line x1="60.8" y1="32.2" x2="70" y2="32.2" stroke="#e8921e" stroke-width="1.1"/>
<circle cx="65.4" cy="32.2" r="2.15" fill="#e8921e"/>
<text x="73.6" y="34.6" font-size="8.6" textLength="31" lengthAdjust="spacingAndGlyphs">Parental</text>
<text x="105.3" y="31.6" font-size="5.2" textLength="5.7" lengthAdjust="spacingAndGlyphs">(+)</text>
<line x1="60.8" y1="42.1" x2="70" y2="42.1" stroke="#86c063" stroke-width="1.1"/>
<rect x="63.25" y="39.95" width="4.29" height="4.29" fill="#67ad45"/>
<text x="73.4" y="44.5" font-size="8.6" textLength="20.3" lengthAdjust="spacingAndGlyphs">JAK2</text>
<text x="94.2" y="41.5" font-size="5.2" textLength="14" lengthAdjust="spacingAndGlyphs">WT(+)</text>
<line x1="60.8" y1="52.1" x2="70" y2="52.1" stroke="#24468a" stroke-width="1.1"/>
<path d="M65.4,49.63 L67.65,53.92 L63.15,53.92 Z" fill="#24468a"/>
<text x="73.4" y="54.5" font-size="8.6" textLength="20.3" lengthAdjust="spacingAndGlyphs">JAK2</text>
<text x="94.2" y="51.5" font-size="5.2" textLength="20.4" lengthAdjust="spacingAndGlyphs">V617F(+)</text>
<line x1="60.8" y1="61.9" x2="70" y2="61.9" stroke="#9990d4" stroke-width="1.1"/>
<path d="M65.4,64.37 L67.65,60.08 L63.15,60.08 Z" fill="#9990d4"/>
<text x="73.4" y="64.3" font-size="8.6" textLength="20.3" lengthAdjust="spacingAndGlyphs">JAK2</text>
<text x="94.2" y="61.3" font-size="5.2" textLength="29" lengthAdjust="spacingAndGlyphs">ex13InDel(+)</text>
<line x1="60.8" y1="70.9" x2="70" y2="70.9" stroke="#b4123c" stroke-width="1.1"/>
<path d="M65.4,73.37 L67.65,69.08 L63.15,69.08 Z" fill="#b4123c"/>
<text x="73.4" y="73.3" font-size="8.6" textLength="20.3" lengthAdjust="spacingAndGlyphs">JAK2</text>
<text x="94.2" y="70.3" font-size="5.2" textLength="27.7" lengthAdjust="spacingAndGlyphs">ex13InDel(-)</text>
<text x="55.8" y="174.2" font-size="8" textLength="96.9" lengthAdjust="spacingAndGlyphs">(+) = IL-3 supplementation</text>
<text x="55.8" y="184.2" font-size="8" textLength="106.2" lengthAdjust="spacingAndGlyphs">(-) = no IL-3 supplementation</text>
<line x1="280.6" y1="27.6" x2="280.6" y2="136.6" stroke="#1a1818" stroke-width="1.35"/>
<line x1="277.5" y1="133.7" x2="280.6" y2="133.7" stroke="#1a1818" stroke-width="1.1"/>
<text x="274.8" y="136.6" font-size="8.5" text-anchor="end">0</text>
<line x1="277.5" y1="107.9" x2="280.6" y2="107.9" stroke="#1a1818" stroke-width="1.1"/>
<text x="274.8" y="110.8" font-size="8.5" text-anchor="end">0.5</text>
<line x1="277.5" y1="82.1" x2="280.6" y2="82.1" stroke="#1a1818" stroke-width="1.1"/>
<text x="274.8" y="85" font-size="8.5" text-anchor="end">1</text>
<line x1="277.5" y1="56.3" x2="280.6" y2="56.3" stroke="#1a1818" stroke-width="1.1"/>
<text x="274.8" y="59.2" font-size="8.5" text-anchor="end">1.5</text>
<line x1="277.5" y1="30.5" x2="280.6" y2="30.5" stroke="#1a1818" stroke-width="1.1"/>
<text x="274.8" y="33.4" font-size="8.5" text-anchor="end">2</text>
<line x1="280" y1="134.2" x2="438" y2="134.2" stroke="#1a1818" stroke-width="1.4"/>
<line x1="280.6" y1="134.2" x2="280.6" y2="136.8" stroke="#1a1818" stroke-width="1"/>
<text x="280.6" y="148" font-size="8.5" text-anchor="middle">0</text>
<line x1="311.4" y1="134.2" x2="311.4" y2="136.8" stroke="#1a1818" stroke-width="1"/>
<text x="311.4" y="148" font-size="8.5" text-anchor="middle">2</text>
<line x1="342.2" y1="134.2" x2="342.2" y2="136.8" stroke="#1a1818" stroke-width="1"/>
<text x="342.2" y="148" font-size="8.5" text-anchor="middle">4</text>
<line x1="373" y1="134.2" x2="373" y2="136.8" stroke="#1a1818" stroke-width="1"/>
<text x="373" y="148" font-size="8.5" text-anchor="middle">6</text>
<line x1="403.8" y1="134.2" x2="403.8" y2="136.8" stroke="#1a1818" stroke-width="1"/>
<text x="403.8" y="148" font-size="8.5" text-anchor="middle">8</text>
<line x1="434.6" y1="134.2" x2="434.6" y2="136.8" stroke="#1a1818" stroke-width="1"/>
<text x="434.6" y="148" font-size="8.5" text-anchor="middle">10</text>
<text x="313.9" y="161.7" font-size="10.5" textLength="90.5" lengthAdjust="spacingAndGlyphs">Days post IL-3 withdrawal</text>
<g transform="translate(253.9,112.1) rotate(-90)">
<text x="0" y="0" font-size="10.5" textLength="56.5" lengthAdjust="spacingAndGlyphs">Cell count (×10</text>
<text x="56.6" y="-4" font-size="6.5" textLength="3.2" lengthAdjust="spacingAndGlyphs">7</text>
<text x="59.4" y="0" font-size="10.5" textLength="2.9" lengthAdjust="spacingAndGlyphs">)</text>
</g>
<path d="M280.6,133.55 L281.37,133.54 L282.14,133.54 L282.91,133.53 L283.68,133.53 L284.45,133.52 L285.22,133.52 L285.99,133.51 L286.76,133.5 L287.53,133.5 L288.3,133.49 L289.07,133.49 L289.84,133.48 L290.61,133.47 L291.38,133.47 L292.15,133.46 L292.92,133.45 L293.69,133.44 L294.46,133.44 L295.23,133.43 L296,133.42 L296.77,133.41 L297.54,133.4 L298.31,133.39 L299.08,133.38 L299.85,133.38 L300.62,133.37 L301.39,133.35 L302.16,133.34 L302.93,133.33 L303.7,133.32 L304.47,133.31 L305.24,133.3 L306.01,133.29 L306.78,133.27 L307.55,133.26 L308.32,133.25 L309.09,133.23 L309.86,133.22 L310.63,133.21 L311.4,133.19 L312.17,133.17 L312.94,133.16 L313.71,133.14 L314.48,133.13 L315.25,133.11 L316.02,133.09 L316.79,133.07 L317.56,133.05 L318.33,133.03 L319.1,133.01 L319.87,132.99 L320.64,132.97 L321.41,132.95 L322.18,132.92 L322.95,132.9 L323.72,132.88 L324.49,132.85 L325.26,132.83 L326.03,132.8 L326.8,132.77 L327.57,132.74 L328.34,132.71 L329.11,132.68 L329.88,132.65 L330.65,132.62 L331.42,132.59 L332.19,132.55 L332.96,132.52 L333.73,132.48 L334.5,132.45 L335.27,132.41 L336.04,132.37 L336.81,132.33 L337.58,132.29 L338.35,132.24 L339.12,132.2 L339.89,132.15 L340.66,132.11 L341.43,132.06 L342.2,132.01 L342.97,131.96 L343.74,131.9 L344.51,131.85 L345.28,131.79 L346.05,131.73 L346.82,131.67 L347.59,131.61 L348.36,131.55 L349.13,131.48 L349.9,131.42 L350.67,131.35 L351.44,131.27 L352.21,131.2 L352.98,131.13 L353.75,131.05 L354.52,130.97 L355.29,130.88 L356.06,130.8 L356.83,130.71 L357.6,130.62 L358.37,130.52 L359.14,130.43 L359.91,130.33 L360.68,130.22 L361.45,130.12 L362.22,130.01 L362.99,129.9 L363.76,129.78 L364.53,129.66 L365.3,129.54 L366.07,129.41 L366.84,129.28 L367.61,129.15 L368.38,129.01 L369.15,128.87 L369.92,128.72 L370.69,128.57 L371.46,128.41 L372.23,128.25 L373,128.08 L373.77,127.91 L374.54,127.74 L375.31,127.55 L376.08,127.37 L376.85,127.17 L377.62,126.97 L378.39,126.77 L379.16,126.56 L379.93,126.34 L380.7,126.12 L381.47,125.89 L382.24,125.65 L383.01,125.4 L383.78,125.15 L384.55,124.89 L385.32,124.62 L386.09,124.35 L386.86,124.06 L387.63,123.77 L388.4,123.46 L389.17,123.15 L389.94,122.83 L390.71,122.5 L391.48,122.16 L392.25,121.81 L393.02,121.45 L393.79,121.07 L394.56,120.69 L395.33,120.29 L396.1,119.88 L396.87,119.46 L397.64,119.03 L398.41,118.58 L399.18,118.12 L399.95,117.65 L400.72,117.16 L401.49,116.66 L402.26,116.14 L403.03,115.6 L403.8,115.05 L404.57,114.48 L405.34,113.9 L406.11,113.29 L406.88,112.67 L407.65,112.03 L408.42,111.37 L409.19,110.69 L409.96,109.99 L410.73,109.27 L411.5,108.53 L412.27,107.76 L413.04,106.97 L413.81,106.15 L414.58,105.32 L415.35,104.45 L416.12,103.56 L416.89,102.64 L417.66,101.7 L418.43,100.72 L419.2,99.72 L419.97,98.68 L420.74,97.62 L421.51,96.52 L422.28,95.38 L423.05,94.22 L423.82,93.02 L424.59,91.78 L425.36,90.5 L426.13,89.18 L426.9,87.83 L427.67,86.43 L428.44,84.99 L429.21,83.51 L429.98,81.98 L430.75,80.4 L431.52,78.78 L432.29,77.11 L433.06,75.39 L433.83,73.61 L434.6,71.78" fill="none" stroke="#b4123c" stroke-width="1.1" stroke-linejoin="round"/>
<path d="M280.6,132.67 L437.68,132.67" fill="none" stroke="#e8921e" stroke-width="1.5" stroke-linejoin="round"/>
<path d="M280.6,130.35 L326.8,132.67 L437.68,132.93" fill="none" stroke="#67ad45" stroke-width="1.1" stroke-linejoin="round"/>
<path d="M280.6,131.74 L437.68,131.74" fill="none" stroke="#24468a" stroke-width="1.1" stroke-linejoin="round"/>
<path d="M342.2,133.07 L344.45,128.78 L339.95,128.78 Z" fill="#b4123c"/>
<path d="M373,133.07 L375.25,128.78 L370.75,128.78 Z" fill="#b4123c"/>
<line x1="388.4" y1="106.87" x2="388.4" y2="126.99" stroke="#b4123c" stroke-width="0.9"/>
<line x1="386.4" y1="106.87" x2="390.4" y2="106.87" stroke="#b4123c" stroke-width="0.9"/>
<line x1="386.4" y1="126.99" x2="390.4" y2="126.99" stroke="#b4123c" stroke-width="0.9"/>
<path d="M388.4,118.11 L390.65,113.82 L386.15,113.82 Z" fill="#b4123c"/>
<line x1="403.8" y1="107.38" x2="403.8" y2="122.61" stroke="#b4123c" stroke-width="0.9"/>
<line x1="401.8" y1="107.38" x2="405.8" y2="107.38" stroke="#b4123c" stroke-width="0.9"/>
<line x1="401.8" y1="122.61" x2="405.8" y2="122.61" stroke="#b4123c" stroke-width="0.9"/>
<path d="M403.8,117.08 L406.05,112.78 L401.55,112.78 Z" fill="#b4123c"/>
<line x1="419.2" y1="90.87" x2="419.2" y2="119.25" stroke="#b4123c" stroke-width="0.9"/>
<line x1="417.2" y1="90.87" x2="421.2" y2="90.87" stroke="#b4123c" stroke-width="0.9"/>
<line x1="417.2" y1="119.25" x2="421.2" y2="119.25" stroke="#b4123c" stroke-width="0.9"/>
<path d="M419.2,106.76 L421.45,102.46 L416.95,102.46 Z" fill="#b4123c"/>
<line x1="434.6" y1="50.62" x2="434.6" y2="93.45" stroke="#b4123c" stroke-width="0.9"/>
<line x1="432.6" y1="50.62" x2="436.6" y2="50.62" stroke="#b4123c" stroke-width="0.9"/>
<line x1="432.6" y1="93.45" x2="436.6" y2="93.45" stroke="#b4123c" stroke-width="0.9"/>
<path d="M434.6,74.25 L436.85,69.96 L432.35,69.96 Z" fill="#b4123c"/>
<line x1="403.8" y1="127.51" x2="403.8" y2="130.6" stroke="#24468a" stroke-width="0.9"/>
<line x1="401.8" y1="127.51" x2="405.8" y2="127.51" stroke="#24468a" stroke-width="0.9"/>
<line x1="401.8" y1="130.6" x2="405.8" y2="130.6" stroke="#24468a" stroke-width="0.9"/>
<path d="M403.8,128.13 L406.05,132.43 L401.55,132.43 Z" fill="#24468a"/>
<line x1="434.6" y1="125.19" x2="434.6" y2="129.57" stroke="#24468a" stroke-width="0.9"/>
<line x1="432.6" y1="125.19" x2="436.6" y2="125.19" stroke="#24468a" stroke-width="0.9"/>
<line x1="432.6" y1="129.57" x2="436.6" y2="129.57" stroke="#24468a" stroke-width="0.9"/>
<path d="M434.6,127.1 L436.85,131.4 L432.35,131.4 Z" fill="#24468a"/>
<rect x="309.14" y="127.57" width="4.52" height="4.52" fill="#67ad45"/>
<rect x="278.34" y="128.34" width="4.52" height="4.52" fill="#67ad45"/>
<circle cx="280.6" cy="130.86" r="2.15" fill="#e8921e"/>
<rect x="293.74" y="127.57" width="4.52" height="4.52" fill="#e8921e"/>
<circle cx="311.4" cy="133.18" r="2.15" fill="#e8921e"/>
<circle cx="326.8" cy="133.18" r="2.15" fill="#e8921e"/>
<circle cx="342.2" cy="133.18" r="2.15" fill="#e8921e"/>
<circle cx="357.6" cy="133.7" r="2.15" fill="#e8921e"/>
<circle cx="373" cy="133.7" r="2.15" fill="#e8921e"/>
<circle cx="388.4" cy="133.7" r="2.15" fill="#e8921e"/>
<circle cx="403.8" cy="133.7" r="2.15" fill="#e8921e"/>
<circle cx="419.2" cy="133.7" r="2.15" fill="#e8921e"/>
<circle cx="434.6" cy="133.7" r="2.15" fill="#e8921e"/>
<line x1="287.3" y1="32.7" x2="295.8" y2="32.7" stroke="#e8921e" stroke-width="1.1"/>
<circle cx="291.5" cy="32.7" r="2.15" fill="#e8921e"/>
<text x="299.6" y="34.9" font-size="8.6" textLength="31" lengthAdjust="spacingAndGlyphs">Parental</text>
<line x1="287.3" y1="42.5" x2="295.8" y2="42.5" stroke="#86c063" stroke-width="1.1"/>
<rect x="289.35" y="40.35" width="4.29" height="4.29" fill="#67ad45"/>
<text x="299.6" y="44.7" font-size="8.6" textLength="20.3" lengthAdjust="spacingAndGlyphs">JAK2</text>
<text x="320.4" y="41.7" font-size="5.2" textLength="8.3" lengthAdjust="spacingAndGlyphs">WT</text>
<line x1="287.3" y1="52.3" x2="295.8" y2="52.3" stroke="#24468a" stroke-width="1.1"/>
<path d="M291.5,49.83 L293.75,54.12 L289.25,54.12 Z" fill="#24468a"/>
<text x="299.6" y="54.5" font-size="8.6" textLength="20.3" lengthAdjust="spacingAndGlyphs">JAK2</text>
<text x="320.4" y="51.5" font-size="5.2" textLength="14.5" lengthAdjust="spacingAndGlyphs">V617F</text>
<line x1="287.3" y1="62" x2="295.8" y2="62" stroke="#b4123c" stroke-width="1.1"/>
<path d="M291.5,64.47 L293.75,60.18 L289.25,60.18 Z" fill="#b4123c"/>
<text x="299.6" y="64.2" font-size="8.6" textLength="20.3" lengthAdjust="spacingAndGlyphs">JAK2</text>
<text x="320.4" y="61.2" font-size="5.2" textLength="22.5" lengthAdjust="spacingAndGlyphs">ex13InDel</text>
<line x1="56.3" y1="222.2" x2="56.3" y2="327.8" stroke="#1a1818" stroke-width="1.35"/>
<line x1="53.2" y1="327.2" x2="56.3" y2="327.2" stroke="#1a1818" stroke-width="1.1"/>
<text x="49.9" y="330.2" font-size="8.9" text-anchor="end">0</text>
<line x1="53.2" y1="292.8" x2="56.3" y2="292.8" stroke="#1a1818" stroke-width="1.1"/>
<text x="49.9" y="295.8" font-size="8.9" text-anchor="end">0.5</text>
<line x1="53.2" y1="258.4" x2="56.3" y2="258.4" stroke="#1a1818" stroke-width="1.1"/>
<text x="49.9" y="261.4" font-size="8.9" text-anchor="end">1</text>
<line x1="53.2" y1="224" x2="56.3" y2="224" stroke="#1a1818" stroke-width="1.1"/>
<text x="49.9" y="227" font-size="8.9" text-anchor="end">1.5</text>
<line x1="55.7" y1="327.5" x2="213.5" y2="327.5" stroke="#1a1818" stroke-width="1.4"/>
<line x1="56.3" y1="327.2" x2="56.3" y2="330" stroke="#1a1818" stroke-width="1"/>
<text x="56.3" y="341.1" font-size="8.9" text-anchor="middle">1</text>
<line x1="133.65" y1="327.2" x2="133.65" y2="330" stroke="#1a1818" stroke-width="1"/>
<text x="133.65" y="341.1" font-size="8.9" text-anchor="middle">2</text>
<line x1="211" y1="327.2" x2="211" y2="330" stroke="#1a1818" stroke-width="1"/>
<text x="211" y="341.1" font-size="8.9" text-anchor="middle">3</text>
<text x="126.8" y="355.5" font-size="10.5" textLength="17" lengthAdjust="spacingAndGlyphs">Days</text>
<g transform="translate(31.3,306) rotate(-90)">
<text x="0" y="0" font-size="10.5" textLength="57.5" lengthAdjust="spacingAndGlyphs">Cell count (×10</text>
<text x="57.6" y="-4" font-size="6.5" textLength="3.2" lengthAdjust="spacingAndGlyphs">6</text>
<text x="60.4" y="0" font-size="10.5" textLength="2.9" lengthAdjust="spacingAndGlyphs">)</text>
</g>
<path d="M56.3,310 L211,242.03" fill="none" stroke="#b4123c" stroke-width="1.05" stroke-linejoin="round"/>
<path d="M56.3,310 L211,255.79" fill="none" stroke="#24468a" stroke-width="1.05" stroke-linejoin="round"/>
<path d="M56.3,310 L211,279.18" fill="none" stroke="#67ad45" stroke-width="1.05" stroke-linejoin="round"/>
<path d="M56.3,324.76 L58.54,327.2 L56.3,329.64 L54.06,327.2 Z" fill="#e8921e"/>
<path d="M133.65,324.76 L135.89,327.2 L133.65,329.64 L131.41,327.2 Z" fill="#e8921e"/>
<path d="M211,324.76 L213.24,327.2 L211,329.64 L208.76,327.2 Z" fill="#e8921e"/>
<path d="M56.3,327.2 L211,327.2" fill="none" stroke="#4f2a7e" stroke-width="1.15" stroke-linejoin="round"/>
<path d="M56.3,329.27 L58.55,324.98 L54.05,324.98 Z" fill="#4f2a7e"/>
<path d="M133.65,329.27 L135.9,324.98 L131.4,324.98 Z" fill="#4f2a7e"/>
<path d="M211,329.27 L213.25,324.98 L208.75,324.98 Z" fill="#4f2a7e"/>
<path d="M56.3,313.72 L58.55,318.02 L54.05,318.02 Z" fill="#67ad45"/>
<line x1="133.65" y1="284.2" x2="133.65" y2="291.42" stroke="#67ad45" stroke-width="0.9"/>
<line x1="131.65" y1="284.2" x2="135.65" y2="284.2" stroke="#67ad45" stroke-width="0.9"/>
<line x1="131.65" y1="291.42" x2="135.65" y2="291.42" stroke="#67ad45" stroke-width="0.9"/>
<path d="M133.65,285.24 L135.9,289.53 L131.4,289.53 Z" fill="#67ad45"/>
<line x1="211" y1="280.83" x2="211" y2="285.92" stroke="#67ad45" stroke-width="0.9"/>
<line x1="209" y1="280.83" x2="213" y2="280.83" stroke="#67ad45" stroke-width="0.9"/>
<line x1="209" y1="285.92" x2="213" y2="285.92" stroke="#67ad45" stroke-width="0.9"/>
<path d="M211,281.73 L213.25,286.02 L208.75,286.02 Z" fill="#67ad45"/>
<rect x="54.15" y="310.88" width="4.29" height="4.29" fill="#24468a"/>
<line x1="133.65" y1="276.29" x2="133.65" y2="282.82" stroke="#24468a" stroke-width="0.9"/>
<line x1="131.65" y1="276.29" x2="135.65" y2="276.29" stroke="#24468a" stroke-width="0.9"/>
<line x1="131.65" y1="282.82" x2="135.65" y2="282.82" stroke="#24468a" stroke-width="0.9"/>
<rect x="131.5" y="276.89" width="4.29" height="4.29" fill="#24468a"/>
<line x1="211" y1="252.21" x2="211" y2="262.8" stroke="#24468a" stroke-width="0.9"/>
<line x1="209" y1="252.21" x2="213" y2="252.21" stroke="#24468a" stroke-width="0.9"/>
<line x1="209" y1="262.8" x2="213" y2="262.8" stroke="#24468a" stroke-width="0.9"/>
<rect x="208.85" y="255.08" width="4.29" height="4.29" fill="#24468a"/>
<circle cx="56.3" cy="309.59" r="2.15" fill="#b4123c"/>
<circle cx="133.65" cy="279.73" r="2.15" fill="#b4123c"/>
<line x1="211" y1="229.5" x2="211" y2="251.04" stroke="#b4123c" stroke-width="0.9"/>
<line x1="209" y1="229.5" x2="213" y2="229.5" stroke="#b4123c" stroke-width="0.9"/>
<line x1="209" y1="251.04" x2="213" y2="251.04" stroke="#b4123c" stroke-width="0.9"/>
<circle cx="211" cy="240.31" r="2.15" fill="#b4123c"/>
<line x1="280.5" y1="222.15" x2="280.5" y2="327.6" stroke="#1a1818" stroke-width="1.35"/>
<line x1="277.4" y1="327" x2="280.5" y2="327" stroke="#1a1818" stroke-width="1.1"/>
<text x="274.1" y="330" font-size="8.9" text-anchor="end">0</text>
<line x1="277.4" y1="292.65" x2="280.5" y2="292.65" stroke="#1a1818" stroke-width="1.1"/>
<text x="274.1" y="295.65" font-size="8.9" text-anchor="end">0.5</text>
<line x1="277.4" y1="258.3" x2="280.5" y2="258.3" stroke="#1a1818" stroke-width="1.1"/>
<text x="274.1" y="261.3" font-size="8.9" text-anchor="end">1</text>
<line x1="277.4" y1="223.95" x2="280.5" y2="223.95" stroke="#1a1818" stroke-width="1.1"/>
<text x="274.1" y="226.95" font-size="8.9" text-anchor="end">1.5</text>
<line x1="279.9" y1="327.3" x2="437.7" y2="327.3" stroke="#1a1818" stroke-width="1.4"/>
<line x1="280.5" y1="327" x2="280.5" y2="329.8" stroke="#1a1818" stroke-width="1"/>
<text x="280.5" y="341.1" font-size="8.9" text-anchor="middle">1</text>
<line x1="357.85" y1="327" x2="357.85" y2="329.8" stroke="#1a1818" stroke-width="1"/>
<text x="357.85" y="341.1" font-size="8.9" text-anchor="middle">2</text>
<line x1="435.2" y1="327" x2="435.2" y2="329.8" stroke="#1a1818" stroke-width="1"/>
<text x="435.2" y="341.1" font-size="8.9" text-anchor="middle">3</text>
<text x="351" y="355.5" font-size="10.5" textLength="17" lengthAdjust="spacingAndGlyphs">Days</text>
<g transform="translate(256,305.4) rotate(-90)">
<text x="0" y="0" font-size="10.5" textLength="56.5" lengthAdjust="spacingAndGlyphs">Cell count (×10</text>
<text x="56.6" y="-4" font-size="6.5" textLength="3.2" lengthAdjust="spacingAndGlyphs">6</text>
<text x="59.4" y="0" font-size="10.5" textLength="2.9" lengthAdjust="spacingAndGlyphs">)</text>
</g>
<path d="M280.5,310.1 L435.2,234.6" fill="none" stroke="#b4123c" stroke-width="1.05" stroke-linejoin="round"/>
<path d="M280.5,307.76 L435.2,241.81" fill="none" stroke="#24468a" stroke-width="1.05" stroke-linejoin="round"/>
<path d="M280.5,309.14 L435.2,258.99" fill="none" stroke="#67ad45" stroke-width="1.05" stroke-linejoin="round"/>
<path d="M280.5,311.2 L435.2,278.57" fill="none" stroke="#4f2a7e" stroke-width="1.05" stroke-linejoin="round"/>
<path d="M280.5,314.63 L435.2,293.61" fill="none" stroke="#e8921e" stroke-width="1.05" stroke-linejoin="round"/>
<path d="M280.5,314.63 L435.2,297.67" fill="none" stroke="#2a6847" stroke-width="1.05" stroke-linejoin="round"/>
<path d="M280.5,320.13 L435.2,323.56" fill="none" stroke="#9990d4" stroke-width="1.05" stroke-linejoin="round"/>
<rect x="278.35" y="318.46" width="4.29" height="4.29" fill="#9990d4"/>
<rect x="355.7" y="318.88" width="4.29" height="4.29" fill="#9990d4"/>
<rect x="433.05" y="322.24" width="4.29" height="4.29" fill="#9990d4"/>
<circle cx="280.5" cy="314.63" r="2.15" fill="#2a6847"/>
<line x1="357.85" y1="300.89" x2="357.85" y2="304.33" stroke="#2a6847" stroke-width="0.9"/>
<line x1="355.85" y1="300.89" x2="359.85" y2="300.89" stroke="#2a6847" stroke-width="0.9"/>
<line x1="355.85" y1="304.33" x2="359.85" y2="304.33" stroke="#2a6847" stroke-width="0.9"/>
<circle cx="357.85" cy="302.47" r="2.15" fill="#2a6847"/>
<circle cx="435.2" cy="299.31" r="2.15" fill="#2a6847"/>
<path d="M280.5,313.91 L282.74,316.35 L280.5,318.79 L278.26,316.35 Z" fill="#e8921e"/>
<line x1="357.85" y1="297.73" x2="357.85" y2="302.95" stroke="#e8921e" stroke-width="0.9"/>
<line x1="355.85" y1="297.73" x2="359.85" y2="297.73" stroke="#e8921e" stroke-width="0.9"/>
<line x1="355.85" y1="302.95" x2="359.85" y2="302.95" stroke="#e8921e" stroke-width="0.9"/>
<path d="M357.85,297.97 L360.09,300.41 L357.85,302.85 L355.61,300.41 Z" fill="#e8921e"/>
<path d="M435.2,291.93 L437.44,294.37 L435.2,296.81 L432.96,294.37 Z" fill="#e8921e"/>
<path d="M280.5,313.67 L282.75,309.37 L278.25,309.37 Z" fill="#4f2a7e"/>
<line x1="357.85" y1="285.57" x2="357.85" y2="291.89" stroke="#4f2a7e" stroke-width="0.9"/>
<line x1="355.85" y1="285.57" x2="359.85" y2="285.57" stroke="#4f2a7e" stroke-width="0.9"/>
<line x1="355.85" y1="291.89" x2="359.85" y2="291.89" stroke="#4f2a7e" stroke-width="0.9"/>
<path d="M357.85,290.17 L360.1,285.88 L355.6,285.88 Z" fill="#4f2a7e"/>
<path d="M435.2,283.65 L437.45,279.35 L432.95,279.35 Z" fill="#4f2a7e"/>
<path d="M280.5,306.67 L282.75,310.96 L278.25,310.96 Z" fill="#67ad45"/>
<path d="M357.85,275.27 L360.1,279.57 L355.6,279.57 Z" fill="#67ad45"/>
<path d="M435.2,259.27 L437.45,263.56 L432.95,263.56 Z" fill="#67ad45"/>
<rect x="278.35" y="305.62" width="4.29" height="4.29" fill="#24468a"/>
<line x1="357.85" y1="265.58" x2="357.85" y2="272.04" stroke="#24468a" stroke-width="0.9"/>
<line x1="355.85" y1="265.58" x2="359.85" y2="265.58" stroke="#24468a" stroke-width="0.9"/>
<line x1="355.85" y1="272.04" x2="359.85" y2="272.04" stroke="#24468a" stroke-width="0.9"/>
<rect x="355.7" y="267.08" width="4.29" height="4.29" fill="#24468a"/>
<rect x="433.05" y="239.67" width="4.29" height="4.29" fill="#24468a"/>
<circle cx="280.5" cy="309.82" r="2.15" fill="#b4123c"/>
<circle cx="357.85" cy="274.24" r="2.15" fill="#b4123c"/>
<circle cx="435.2" cy="232.61" r="2.15" fill="#b4123c"/>
<line x1="56.5" y1="393.75" x2="56.5" y2="499.35" stroke="#1a1818" stroke-width="1.35"/>
<line x1="53.4" y1="498.75" x2="56.5" y2="498.75" stroke="#1a1818" stroke-width="1.1"/>
<text x="50.1" y="501.75" font-size="8.9" text-anchor="end">0</text>
<line x1="53.4" y1="472.95" x2="56.5" y2="472.95" stroke="#1a1818" stroke-width="1.1"/>
<text x="50.1" y="475.95" font-size="8.9" text-anchor="end">0.5</text>
<line x1="53.4" y1="447.15" x2="56.5" y2="447.15" stroke="#1a1818" stroke-width="1.1"/>
<text x="50.1" y="450.15" font-size="8.9" text-anchor="end">1</text>
<line x1="53.4" y1="421.35" x2="56.5" y2="421.35" stroke="#1a1818" stroke-width="1.1"/>
<text x="50.1" y="424.35" font-size="8.9" text-anchor="end">1.5</text>
<line x1="53.4" y1="395.55" x2="56.5" y2="395.55" stroke="#1a1818" stroke-width="1.1"/>
<text x="50.1" y="398.55" font-size="8.9" text-anchor="end">2</text>
<line x1="55.9" y1="499.05" x2="213.7" y2="499.05" stroke="#1a1818" stroke-width="1.4"/>
<line x1="56.5" y1="498.75" x2="56.5" y2="501.55" stroke="#1a1818" stroke-width="1"/>
<text x="56.5" y="512.7" font-size="8.9" text-anchor="middle">1</text>
<line x1="133.85" y1="498.75" x2="133.85" y2="501.55" stroke="#1a1818" stroke-width="1"/>
<text x="133.85" y="512.7" font-size="8.9" text-anchor="middle">2</text>
<line x1="211.2" y1="498.75" x2="211.2" y2="501.55" stroke="#1a1818" stroke-width="1"/>
<text x="211.2" y="512.7" font-size="8.9" text-anchor="middle">3</text>
<text x="126.8" y="526.7" font-size="10.5" textLength="17" lengthAdjust="spacingAndGlyphs">Days</text>
<g transform="translate(31.3,477.5) rotate(-90)">
<text x="0" y="0" font-size="10.5" textLength="57.75" lengthAdjust="spacingAndGlyphs">Cell count (×10</text>
<text x="57.85" y="-4" font-size="6.5" textLength="3.2" lengthAdjust="spacingAndGlyphs">6</text>
<text x="60.65" y="0" font-size="10.5" textLength="2.9" lengthAdjust="spacingAndGlyphs">)</text>
</g>
<path d="M56.5,488.43 L211.2,421.35" fill="none" stroke="#b4123c" stroke-width="1.05" stroke-linejoin="round"/>
<path d="M56.5,491.01 L211.2,430.64" fill="none" stroke="#24468a" stroke-width="1.05" stroke-linejoin="round"/>
<path d="M56.5,485.85 L211.2,436.83" fill="none" stroke="#67ad45" stroke-width="1.05" stroke-linejoin="round"/>
<path d="M56.5,485.85 L211.2,457.99" fill="none" stroke="#4f2a7e" stroke-width="1.05" stroke-linejoin="round"/>
<path d="M56.5,488.43 L211.2,468.98" fill="none" stroke="#e8921e" stroke-width="1.05" stroke-linejoin="round"/>
<path d="M56.5,488.95 L211.2,475.01" fill="none" stroke="#2a6847" stroke-width="1.05" stroke-linejoin="round"/>
<path d="M56.5,490.75 L211.2,487.4" fill="none" stroke="#9990d4" stroke-width="1.05" stroke-linejoin="round"/>
<rect x="54.35" y="488.35" width="4.29" height="4.29" fill="#9990d4"/>
<rect x="131.7" y="485.77" width="4.29" height="4.29" fill="#9990d4"/>
<rect x="209.05" y="485.25" width="4.29" height="4.29" fill="#9990d4"/>
<circle cx="56.5" cy="488.95" r="2.15" fill="#2a6847"/>
<circle cx="133.85" cy="478.11" r="2.15" fill="#2a6847"/>
<circle cx="211.2" cy="476.56" r="2.15" fill="#2a6847"/>
<path d="M56.5,485.99 L58.74,488.43 L56.5,490.87 L54.26,488.43 Z" fill="#e8921e"/>
<line x1="133.85" y1="472.95" x2="133.85" y2="476.56" stroke="#e8921e" stroke-width="0.9"/>
<line x1="131.85" y1="472.95" x2="135.85" y2="472.95" stroke="#e8921e" stroke-width="0.9"/>
<line x1="131.85" y1="476.56" x2="135.85" y2="476.56" stroke="#e8921e" stroke-width="0.9"/>
<path d="M133.85,472.26 L136.09,474.7 L133.85,477.15 L131.61,474.7 Z" fill="#e8921e"/>
<path d="M211.2,467.57 L213.44,470.01 L211.2,472.45 L208.96,470.01 Z" fill="#e8921e"/>
<path d="M56.5,490.9 L58.75,486.61 L54.25,486.61 Z" fill="#4f2a7e"/>
<line x1="133.85" y1="462.63" x2="133.85" y2="467.27" stroke="#4f2a7e" stroke-width="0.9"/>
<line x1="131.85" y1="462.63" x2="135.85" y2="462.63" stroke="#4f2a7e" stroke-width="0.9"/>
<line x1="131.85" y1="467.27" x2="135.85" y2="467.27" stroke="#4f2a7e" stroke-width="0.9"/>
<path d="M133.85,467.89 L136.1,463.59 L131.6,463.59 Z" fill="#4f2a7e"/>
<path d="M211.2,463.04 L213.45,458.74 L208.95,458.74 Z" fill="#4f2a7e"/>
<path d="M56.5,483.38 L58.75,487.67 L54.25,487.67 Z" fill="#67ad45"/>
<path d="M133.85,455 L136.1,459.29 L131.6,459.29 Z" fill="#67ad45"/>
<line x1="211.2" y1="436.83" x2="211.2" y2="449.73" stroke="#67ad45" stroke-width="0.9"/>
<line x1="209.2" y1="436.83" x2="213.2" y2="436.83" stroke="#67ad45" stroke-width="0.9"/>
<line x1="209.2" y1="449.73" x2="213.2" y2="449.73" stroke="#67ad45" stroke-width="0.9"/>
<path d="M211.2,439 L213.45,443.3 L208.95,443.3 Z" fill="#67ad45"/>
<rect x="54.35" y="487.83" width="4.29" height="4.29" fill="#24468a"/>
<line x1="133.85" y1="458.5" x2="133.85" y2="463.66" stroke="#24468a" stroke-width="0.9"/>
<line x1="131.85" y1="458.5" x2="135.85" y2="458.5" stroke="#24468a" stroke-width="0.9"/>
<line x1="131.85" y1="463.66" x2="135.85" y2="463.66" stroke="#24468a" stroke-width="0.9"/>
<rect x="131.7" y="458.94" width="4.29" height="4.29" fill="#24468a"/>
<rect x="209.05" y="428.49" width="4.29" height="4.29" fill="#24468a"/>
<circle cx="56.5" cy="487.5" r="2.15" fill="#b4123c"/>
<line x1="133.85" y1="450.61" x2="133.85" y2="457.47" stroke="#b4123c" stroke-width="0.9"/>
<line x1="131.85" y1="450.61" x2="135.85" y2="450.61" stroke="#b4123c" stroke-width="0.9"/>
<line x1="131.85" y1="457.47" x2="135.85" y2="457.47" stroke="#b4123c" stroke-width="0.9"/>
<circle cx="133.85" cy="453.91" r="2.15" fill="#b4123c"/>
<line x1="211.2" y1="413.09" x2="211.2" y2="429.61" stroke="#b4123c" stroke-width="0.9"/>
<line x1="209.2" y1="413.09" x2="213.2" y2="413.09" stroke="#b4123c" stroke-width="0.9"/>
<line x1="209.2" y1="429.61" x2="213.2" y2="429.61" stroke="#b4123c" stroke-width="0.9"/>
<circle cx="211.2" cy="421.35" r="2.15" fill="#b4123c"/>
<line x1="280.5" y1="393.75" x2="280.5" y2="499.35" stroke="#1a1818" stroke-width="1.35"/>
<line x1="277.4" y1="498.75" x2="280.5" y2="498.75" stroke="#1a1818" stroke-width="1.1"/>
<text x="274.1" y="501.75" font-size="8.9" text-anchor="end">0</text>
<line x1="277.4" y1="472.95" x2="280.5" y2="472.95" stroke="#1a1818" stroke-width="1.1"/>
<text x="274.1" y="475.95" font-size="8.9" text-anchor="end">0.5</text>
<line x1="277.4" y1="447.15" x2="280.5" y2="447.15" stroke="#1a1818" stroke-width="1.1"/>
<text x="274.1" y="450.15" font-size="8.9" text-anchor="end">1</text>
<line x1="277.4" y1="421.35" x2="280.5" y2="421.35" stroke="#1a1818" stroke-width="1.1"/>
<text x="274.1" y="424.35" font-size="8.9" text-anchor="end">1.5</text>
<line x1="277.4" y1="395.55" x2="280.5" y2="395.55" stroke="#1a1818" stroke-width="1.1"/>
<text x="274.1" y="398.55" font-size="8.9" text-anchor="end">2</text>
<line x1="279.9" y1="499.05" x2="437.7" y2="499.05" stroke="#1a1818" stroke-width="1.4"/>
<line x1="280.5" y1="498.75" x2="280.5" y2="501.55" stroke="#1a1818" stroke-width="1"/>
<text x="280.5" y="512.7" font-size="8.9" text-anchor="middle">1</text>
<line x1="357.85" y1="498.75" x2="357.85" y2="501.55" stroke="#1a1818" stroke-width="1"/>
<text x="357.85" y="512.7" font-size="8.9" text-anchor="middle">2</text>
<line x1="435.2" y1="498.75" x2="435.2" y2="501.55" stroke="#1a1818" stroke-width="1"/>
<text x="435.2" y="512.7" font-size="8.9" text-anchor="middle">3</text>
<text x="351" y="526.7" font-size="10.5" textLength="17" lengthAdjust="spacingAndGlyphs">Days</text>
<g transform="translate(256.3,479.6) rotate(-90)">
<text x="0" y="0" font-size="10.5" textLength="59.6" lengthAdjust="spacingAndGlyphs">Cell count (×10</text>
<text x="59.7" y="-4" font-size="6.5" textLength="3.2" lengthAdjust="spacingAndGlyphs">6</text>
<text x="62.5" y="0" font-size="10.5" textLength="2.9" lengthAdjust="spacingAndGlyphs">)</text>
</g>
<path d="M280.5,493.74 L435.2,412.58" fill="none" stroke="#b4123c" stroke-width="1.05" stroke-linejoin="round"/>
<path d="M280.5,488.43 L435.2,409.22" fill="none" stroke="#24468a" stroke-width="1.05" stroke-linejoin="round"/>
<path d="M280.5,488.43 L435.2,431.67" fill="none" stroke="#67ad45" stroke-width="1.05" stroke-linejoin="round"/>
<path d="M280.5,488.43 L435.2,424.45" fill="none" stroke="#4f2a7e" stroke-width="1.05" stroke-linejoin="round"/>
<path d="M280.5,485.85 L435.2,428.06" fill="none" stroke="#e8921e" stroke-width="1.05" stroke-linejoin="round"/>
<path d="M280.5,489.46 L435.2,418.77" fill="none" stroke="#2a6847" stroke-width="1.05" stroke-linejoin="round"/>
<path d="M280.5,482.24 L435.2,431.67" fill="none" stroke="#9990d4" stroke-width="1.05" stroke-linejoin="round"/>
<rect x="278.35" y="480.09" width="4.29" height="4.29" fill="#9990d4"/>
<line x1="357.85" y1="438.38" x2="357.85" y2="444.57" stroke="#9990d4" stroke-width="0.9"/>
<line x1="355.85" y1="438.38" x2="359.85" y2="438.38" stroke="#9990d4" stroke-width="0.9"/>
<line x1="355.85" y1="444.57" x2="359.85" y2="444.57" stroke="#9990d4" stroke-width="0.9"/>
<rect x="355.7" y="439.33" width="4.29" height="4.29" fill="#9990d4"/>
<line x1="435.2" y1="421.87" x2="435.2" y2="455.41" stroke="#9990d4" stroke-width="0.9"/>
<line x1="433.2" y1="421.87" x2="437.2" y2="421.87" stroke="#9990d4" stroke-width="0.9"/>
<line x1="433.2" y1="455.41" x2="437.2" y2="455.41" stroke="#9990d4" stroke-width="0.9"/>
<rect x="433.05" y="436.49" width="4.29" height="4.29" fill="#9990d4"/>
<circle cx="280.5" cy="487.4" r="2.15" fill="#2a6847"/>
<circle cx="357.85" cy="453.86" r="2.15" fill="#2a6847"/>
<circle cx="435.2" cy="417.74" r="2.15" fill="#2a6847"/>
<path d="M280.5,483.41 L282.74,485.85 L280.5,488.29 L278.26,485.85 Z" fill="#e8921e"/>
<path d="M357.85,446.26 L360.09,448.7 L357.85,451.14 L355.61,448.7 Z" fill="#e8921e"/>
<path d="M435.2,427.17 L437.44,429.61 L435.2,432.05 L432.96,429.61 Z" fill="#e8921e"/>
<path d="M280.5,490.38 L282.75,486.09 L278.25,486.09 Z" fill="#4f2a7e"/>
<path d="M357.85,457.36 L360.1,453.07 L355.6,453.07 Z" fill="#4f2a7e"/>
<path d="M435.2,424.85 L437.45,420.56 L432.95,420.56 Z" fill="#4f2a7e"/>
<path d="M280.5,483.9 L282.75,488.19 L278.25,488.19 Z" fill="#67ad45"/>
<path d="M357.85,456.55 L360.1,460.84 L355.6,460.84 Z" fill="#67ad45"/>
<path d="M435.2,430.23 L437.45,434.53 L432.95,434.53 Z" fill="#67ad45"/>
<rect x="278.35" y="484.74" width="4.29" height="4.29" fill="#24468a"/>
<rect x="355.7" y="448.1" width="4.29" height="4.29" fill="#24468a"/>
<line x1="435.2" y1="404.84" x2="435.2" y2="412.06" stroke="#24468a" stroke-width="0.9"/>
<line x1="433.2" y1="404.84" x2="437.2" y2="404.84" stroke="#24468a" stroke-width="0.9"/>
<line x1="433.2" y1="412.06" x2="437.2" y2="412.06" stroke="#24468a" stroke-width="0.9"/>
<rect x="433.05" y="407.08" width="4.29" height="4.29" fill="#24468a"/>
<circle cx="280.5" cy="489.62" r="2.15" fill="#b4123c"/>
<line x1="357.85" y1="457.47" x2="357.85" y2="469.34" stroke="#b4123c" stroke-width="0.9"/>
<line x1="355.85" y1="457.47" x2="359.85" y2="457.47" stroke="#b4123c" stroke-width="0.9"/>
<line x1="355.85" y1="469.34" x2="359.85" y2="469.34" stroke="#b4123c" stroke-width="0.9"/>
<circle cx="357.85" cy="463.15" r="2.15" fill="#b4123c"/>
<circle cx="435.2" cy="407.93" r="2.15" fill="#b4123c"/>
<text x="101.2" y="215" font-size="10" textLength="67.6" lengthAdjust="spacingAndGlyphs">Parental Ba/F3</text>
<text x="327.7" y="215.1" font-size="10" textLength="24.3" lengthAdjust="spacingAndGlyphs">JAK2</text>
<text x="352.8" y="211" font-size="6.5" textLength="8.7" lengthAdjust="spacingAndGlyphs">WT</text>
<text x="365" y="215.1" font-size="10" textLength="26.5" lengthAdjust="spacingAndGlyphs">Ba/F3</text>
<text x="99.2" y="387.4" font-size="10" textLength="22.5" lengthAdjust="spacingAndGlyphs">JAK2</text>
<text x="122.8" y="382.8" font-size="6.5" textLength="18.2" lengthAdjust="spacingAndGlyphs">V617F</text>
<text x="144.2" y="387.4" font-size="10" textLength="26.6" lengthAdjust="spacingAndGlyphs">Ba/F3</text>
<text x="318.1" y="387.4" font-size="10" textLength="22.7" lengthAdjust="spacingAndGlyphs">JAK2</text>
<text x="341.5" y="382.8" font-size="6.5" textLength="30" lengthAdjust="spacingAndGlyphs">ex13InDel</text>
<text x="374" y="387.4" font-size="10" textLength="26.4" lengthAdjust="spacingAndGlyphs">Ba/F3</text>
<text x="481.2" y="298.2" font-size="8.6" text-anchor="middle" textLength="44" lengthAdjust="spacingAndGlyphs">IL-3 (WEHI)</text>
<text x="480.9" y="308.4" font-size="8.6" text-anchor="middle" textLength="54.3" lengthAdjust="spacingAndGlyphs">dilution factor</text>
<line x1="466" y1="318.2" x2="477.2" y2="318.2" stroke="#b4123c" stroke-width="1.1"/>
<circle cx="471.6" cy="318.2" r="2.15" fill="#b4123c"/>
<text x="480.8" y="321.1" font-size="8.6" textLength="3.8" lengthAdjust="spacingAndGlyphs">1</text>
<line x1="466" y1="332.2" x2="477.2" y2="332.2" stroke="#24468a" stroke-width="1.1"/>
<rect x="469.45" y="330.05" width="4.29" height="4.29" fill="#24468a"/>
<text x="480.8" y="335.1" font-size="8.6" textLength="11.2" lengthAdjust="spacingAndGlyphs">1:2</text>
<line x1="466" y1="345.8" x2="477.2" y2="345.8" stroke="#67ad45" stroke-width="1.1"/>
<path d="M471.6,343.33 L473.85,347.62 L469.35,347.62 Z" fill="#67ad45"/>
<text x="480.8" y="348.7" font-size="8.6" textLength="11.2" lengthAdjust="spacingAndGlyphs">1:4</text>
<line x1="466" y1="359.7" x2="477.2" y2="359.7" stroke="#4f2a7e" stroke-width="1.1"/>
<path d="M471.6,362.17 L473.85,357.88 L469.35,357.88 Z" fill="#4f2a7e"/>
<text x="480.8" y="362.6" font-size="8.6" textLength="11.2" lengthAdjust="spacingAndGlyphs">1:8</text>
<line x1="466" y1="373.7" x2="477.2" y2="373.7" stroke="#e8921e" stroke-width="1.1"/>
<path d="M471.6,371.26 L473.84,373.7 L471.6,376.14 L469.36,373.7 Z" fill="#e8921e"/>
<text x="480.8" y="376.6" font-size="8.6" textLength="15.4" lengthAdjust="spacingAndGlyphs">1:16</text>
<line x1="466" y1="387.6" x2="477.2" y2="387.6" stroke="#2a6847" stroke-width="1.1"/>
<circle cx="471.6" cy="387.6" r="2.15" fill="#2a6847"/>
<text x="480.8" y="390.5" font-size="8.6" textLength="15.4" lengthAdjust="spacingAndGlyphs">1:32</text>
<line x1="466" y1="401.2" x2="477.2" y2="401.2" stroke="#9990d4" stroke-width="1.1"/>
<rect x="469.45" y="399.05" width="4.29" height="4.29" fill="#9990d4"/>
<text x="480.8" y="404.1" font-size="8.6" textLength="4.2" lengthAdjust="spacingAndGlyphs">0</text>
<line x1="56.3" y1="565.6" x2="56.3" y2="671.3" stroke="#1a1818" stroke-width="1.35"/>
<line x1="53.2" y1="670.6" x2="56.3" y2="670.6" stroke="#1a1818" stroke-width="1.1"/>
<text x="50" y="673.5" font-size="9" text-anchor="end">0</text>
<line x1="53.2" y1="653.47" x2="56.3" y2="653.47" stroke="#1a1818" stroke-width="1.1"/>
<text x="50" y="656.37" font-size="9" text-anchor="end">20</text>
<line x1="53.2" y1="636.33" x2="56.3" y2="636.33" stroke="#1a1818" stroke-width="1.1"/>
<text x="50" y="639.23" font-size="9" text-anchor="end">40</text>
<line x1="53.2" y1="619.2" x2="56.3" y2="619.2" stroke="#1a1818" stroke-width="1.1"/>
<text x="50" y="622.1" font-size="9" text-anchor="end">60</text>
<line x1="53.2" y1="602.06" x2="56.3" y2="602.06" stroke="#1a1818" stroke-width="1.1"/>
<text x="50" y="604.96" font-size="9" text-anchor="end">80</text>
<line x1="53.2" y1="584.93" x2="56.3" y2="584.93" stroke="#1a1818" stroke-width="1.1"/>
<text x="50" y="587.83" font-size="9" text-anchor="end">100</text>
<line x1="53.2" y1="567.8" x2="56.3" y2="567.8" stroke="#1a1818" stroke-width="1.1"/>
<text x="50" y="570.7" font-size="9" text-anchor="end">120</text>
<line x1="55.7" y1="670.8" x2="209.9" y2="670.8" stroke="#1a1818" stroke-width="1.4"/>
<line x1="75.6" y1="670.8" x2="75.6" y2="673.8" stroke="#1a1818" stroke-width="1"/>
<text x="75.6" y="685.1" font-size="9.4" text-anchor="middle">0.01</text>
<line x1="114.4" y1="670.8" x2="114.4" y2="673.8" stroke="#1a1818" stroke-width="1"/>
<text x="114.4" y="685.1" font-size="9.4" text-anchor="middle">0.1</text>
<line x1="153.2" y1="670.8" x2="153.2" y2="673.8" stroke="#1a1818" stroke-width="1"/>
<text x="153.2" y="685.1" font-size="9.4" text-anchor="middle">1</text>
<line x1="192" y1="670.8" x2="192" y2="673.8" stroke="#1a1818" stroke-width="1"/>
<text x="192" y="685.1" font-size="9.4" text-anchor="middle">10</text>
<text x="99.6" y="699.2" font-size="10.4" textLength="67.7" lengthAdjust="spacingAndGlyphs">Momelotinib (µM)</text>
<text x="102" y="557.1" font-size="10" textLength="26.5" lengthAdjust="spacingAndGlyphs">Ba/F3</text>
<g transform="translate(29.5,634) rotate(-90)">
<text x="0" y="0" font-size="10.5" textLength="33" lengthAdjust="spacingAndGlyphs">% control</text>
</g>
<path d="M56.3,584.93 L56.93,584.93 L57.57,584.93 L58.2,584.93 L58.83,584.93 L59.46,584.93 L60.1,584.93 L60.73,584.93 L61.36,584.93 L61.99,584.93 L62.63,584.93 L63.26,584.93 L63.89,584.93 L64.52,584.93 L65.16,584.93 L65.79,584.93 L66.42,584.93 L67.05,584.93 L67.69,584.93 L68.32,584.93 L68.95,584.93 L69.58,584.93 L70.22,584.93 L70.85,584.93 L71.48,584.93 L72.11,584.93 L72.75,584.93 L73.38,584.93 L74.01,584.93 L74.64,584.93 L75.28,584.93 L75.91,584.93 L76.54,584.93 L77.17,584.93 L77.81,584.93 L78.44,584.93 L79.07,584.93 L79.7,584.93 L80.34,584.93 L80.97,584.93 L81.6,584.93 L82.23,584.93 L82.87,584.93 L83.5,584.93 L84.13,584.93 L84.76,584.93 L85.4,584.93 L86.03,584.93 L86.66,584.93 L87.29,584.93 L87.93,584.93 L88.56,584.93 L89.19,584.93 L89.82,584.93 L90.46,584.93 L91.09,584.93 L91.72,584.93 L92.35,584.93 L92.99,584.93 L93.62,584.93 L94.25,584.93 L94.88,584.93 L95.52,584.93 L96.15,584.93 L96.78,584.93 L97.41,584.93 L98.05,584.93 L98.68,584.93 L99.31,584.93 L99.94,584.93 L100.58,584.93 L101.21,584.93 L101.84,584.93 L102.47,584.93 L103.11,584.93 L103.74,584.93 L104.37,584.93 L105,584.93 L105.64,584.93 L106.27,584.93 L106.9,584.93 L107.53,584.93 L108.17,584.93 L108.8,584.93 L109.43,584.93 L110.06,584.93 L110.7,584.93 L111.33,584.93 L111.96,584.93 L112.59,584.93 L113.23,584.93 L113.86,584.93 L114.49,584.93 L115.12,584.93 L115.76,584.93 L116.39,584.93 L117.02,584.93 L117.65,584.93 L118.29,584.93 L118.92,584.93 L119.55,584.93 L120.18,584.93 L120.82,584.93 L121.45,584.93 L122.08,584.93 L122.71,584.93 L123.35,584.93 L123.98,584.93 L124.61,584.93 L125.24,584.93 L125.88,584.93 L126.51,584.93 L127.14,584.93 L127.77,584.93 L128.41,584.93 L129.04,584.93 L129.67,584.93 L130.3,584.93 L130.94,584.93 L131.57,584.93 L132.2,584.93 L132.83,584.93 L133.47,584.93 L134.1,584.93 L134.73,584.93 L135.36,584.93 L136,584.93 L136.63,584.93 L137.26,584.94 L137.89,584.94 L138.53,584.94 L139.16,584.95 L139.79,584.95 L140.42,584.96 L141.06,584.97 L141.69,584.98 L142.32,585 L142.95,585.02 L143.59,585.05 L144.22,585.1 L144.85,585.16 L145.48,585.23 L146.12,585.34 L146.75,585.48 L147.38,585.67 L148.01,585.93 L148.65,586.28 L149.28,586.74 L149.91,587.35 L150.54,588.17 L151.18,589.25 L151.81,590.66 L152.44,592.49 L153.07,594.83 L153.71,597.78 L154.34,601.41 L154.97,605.78 L155.6,610.87 L156.24,616.6 L156.87,622.79 L157.5,629.2 L158.13,635.54 L158.77,641.55 L159.4,647.01 L160.03,651.79 L160.66,655.83 L161.3,659.15 L161.93,661.81 L162.56,663.91 L163.19,665.55 L163.83,666.8 L164.46,667.75 L165.09,668.47 L165.72,669.01 L166.36,669.42 L166.99,669.72 L167.62,669.95 L168.25,670.12 L168.89,670.24 L169.52,670.33 L170.15,670.4 L170.78,670.45 L171.42,670.49 L172.05,670.52 L172.68,670.54 L173.31,670.56 L173.95,670.57 L174.58,670.58 L175.21,670.58 L175.84,670.59 L176.48,670.59 L177.11,670.59 L177.74,670.59 L178.37,670.6 L179.01,670.6 L179.64,670.6 L180.27,670.6 L180.9,670.6 L181.54,670.6 L182.17,670.6 L182.8,670.6 L183.43,670.6 L184.07,670.6 L184.7,670.6 L185.33,670.6 L185.96,670.6 L186.6,670.6 L187.23,670.6 L187.86,670.6 L188.49,670.6 L189.13,670.6 L189.76,670.6 L190.39,670.6 L191.02,670.6 L191.66,670.6 L192.29,670.6 L192.92,670.6 L193.55,670.6 L194.19,670.6 L194.82,670.6 L195.45,670.6 L196.08,670.6 L196.72,670.6 L197.35,670.6 L197.98,670.6 L198.61,670.6 L199.25,670.6 L199.88,670.6 L200.51,670.6 L201.14,670.6 L201.78,670.6 L202.41,670.6 L203.04,670.6 L203.67,670.6 L204.31,670.6 L204.94,670.6 L205.57,670.6 L206.2,670.6 L206.84,670.6 L207.47,670.6 L208.1,670.6" fill="none" stroke="#b4123c" stroke-width="1.1" stroke-linejoin="round"/>
<path d="M56.3,584.95 L56.93,584.96 L57.57,584.96 L58.2,584.96 L58.83,584.96 L59.46,584.96 L60.1,584.96 L60.73,584.97 L61.36,584.97 L61.99,584.97 L62.63,584.97 L63.26,584.97 L63.89,584.98 L64.52,584.98 L65.16,584.98 L65.79,584.99 L66.42,584.99 L67.05,584.99 L67.69,585 L68.32,585 L68.95,585 L69.58,585.01 L70.22,585.01 L70.85,585.02 L71.48,585.02 L72.11,585.03 L72.75,585.03 L73.38,585.04 L74.01,585.04 L74.64,585.05 L75.28,585.06 L75.91,585.07 L76.54,585.07 L77.17,585.08 L77.81,585.09 L78.44,585.1 L79.07,585.11 L79.7,585.12 L80.34,585.13 L80.97,585.14 L81.6,585.15 L82.23,585.17 L82.87,585.18 L83.5,585.2 L84.13,585.21 L84.76,585.23 L85.4,585.24 L86.03,585.26 L86.66,585.28 L87.29,585.3 L87.93,585.32 L88.56,585.35 L89.19,585.37 L89.82,585.4 L90.46,585.42 L91.09,585.45 L91.72,585.48 L92.35,585.51 L92.99,585.55 L93.62,585.58 L94.25,585.62 L94.88,585.66 L95.52,585.7 L96.15,585.74 L96.78,585.79 L97.41,585.84 L98.05,585.89 L98.68,585.95 L99.31,586 L99.94,586.07 L100.58,586.13 L101.21,586.2 L101.84,586.27 L102.47,586.35 L103.11,586.43 L103.74,586.51 L104.37,586.6 L105,586.7 L105.64,586.8 L106.27,586.91 L106.9,587.02 L107.53,587.14 L108.17,587.26 L108.8,587.39 L109.43,587.53 L110.06,587.67 L110.7,587.83 L111.33,587.99 L111.96,588.16 L112.59,588.34 L113.23,588.53 L113.86,588.73 L114.49,588.94 L115.12,589.16 L115.76,589.39 L116.39,589.63 L117.02,589.89 L117.65,590.16 L118.29,590.45 L118.92,590.74 L119.55,591.06 L120.18,591.38 L120.82,591.73 L121.45,592.09 L122.08,592.47 L122.71,592.86 L123.35,593.28 L123.98,593.71 L124.61,594.16 L125.24,594.64 L125.88,595.13 L126.51,595.65 L127.14,596.19 L127.77,596.75 L128.41,597.34 L129.04,597.95 L129.67,598.58 L130.3,599.24 L130.94,599.92 L131.57,600.63 L132.2,601.37 L132.83,602.13 L133.47,602.92 L134.1,603.73 L134.73,604.57 L135.36,605.43 L136,606.33 L136.63,607.24 L137.26,608.18 L137.89,609.15 L138.53,610.14 L139.16,611.15 L139.79,612.19 L140.42,613.25 L141.06,614.32 L141.69,615.42 L142.32,616.53 L142.95,617.66 L143.59,618.81 L144.22,619.97 L144.85,621.14 L145.48,622.32 L146.12,623.51 L146.75,624.71 L147.38,625.91 L148.01,627.12 L148.65,628.32 L149.28,629.53 L149.91,630.73 L150.54,631.93 L151.18,633.12 L151.81,634.3 L152.44,635.47 L153.07,636.64 L153.71,637.78 L154.34,638.91 L154.97,640.03 L155.6,641.13 L156.24,642.21 L156.87,643.27 L157.5,644.3 L158.13,645.32 L158.77,646.31 L159.4,647.28 L160.03,648.22 L160.66,649.14 L161.3,650.03 L161.93,650.9 L162.56,651.74 L163.19,652.55 L163.83,653.34 L164.46,654.11 L165.09,654.84 L165.72,655.55 L166.36,656.24 L166.99,656.9 L167.62,657.54 L168.25,658.15 L168.89,658.73 L169.52,659.3 L170.15,659.84 L170.78,660.36 L171.42,660.86 L172.05,661.33 L172.68,661.79 L173.31,662.22 L173.95,662.64 L174.58,663.04 L175.21,663.41 L175.84,663.78 L176.48,664.12 L177.11,664.45 L177.74,664.76 L178.37,665.06 L179.01,665.35 L179.64,665.62 L180.27,665.88 L180.9,666.12 L181.54,666.35 L182.17,666.58 L182.8,666.79 L183.43,666.99 L184.07,667.18 L184.7,667.36 L185.33,667.53 L185.96,667.69 L186.6,667.84 L187.23,667.99 L187.86,668.13 L188.49,668.26 L189.13,668.39 L189.76,668.5 L190.39,668.62 L191.02,668.72 L191.66,668.82 L192.29,668.92 L192.92,669.01 L193.55,669.09 L194.19,669.18 L194.82,669.25 L195.45,669.33 L196.08,669.39 L196.72,669.46 L197.35,669.52 L197.98,669.58 L198.61,669.63 L199.25,669.69 L199.88,669.74 L200.51,669.78 L201.14,669.83 L201.78,669.87 L202.41,669.91 L203.04,669.95 L203.67,669.98 L204.31,670.02 L204.94,670.05 L205.57,670.08 L206.2,670.11 L206.84,670.13 L207.47,670.16 L208.1,670.18" fill="none" stroke="#24468a" stroke-width="1.1" stroke-linejoin="round"/>
<path d="M56.3,585.27 L56.93,585.29 L57.57,585.3 L58.2,585.32 L58.83,585.33 L59.46,585.35 L60.1,585.37 L60.73,585.39 L61.36,585.41 L61.99,585.43 L62.63,585.45 L63.26,585.47 L63.89,585.49 L64.52,585.51 L65.16,585.54 L65.79,585.56 L66.42,585.59 L67.05,585.62 L67.69,585.65 L68.32,585.68 L68.95,585.71 L69.58,585.74 L70.22,585.77 L70.85,585.81 L71.48,585.85 L72.11,585.88 L72.75,585.92 L73.38,585.97 L74.01,586.01 L74.64,586.05 L75.28,586.1 L75.91,586.15 L76.54,586.2 L77.17,586.25 L77.81,586.31 L78.44,586.36 L79.07,586.42 L79.7,586.49 L80.34,586.55 L80.97,586.62 L81.6,586.69 L82.23,586.76 L82.87,586.83 L83.5,586.91 L84.13,586.99 L84.76,587.08 L85.4,587.17 L86.03,587.26 L86.66,587.35 L87.29,587.45 L87.93,587.56 L88.56,587.66 L89.19,587.78 L89.82,587.89 L90.46,588.01 L91.09,588.14 L91.72,588.27 L92.35,588.4 L92.99,588.54 L93.62,588.69 L94.25,588.84 L94.88,588.99 L95.52,589.16 L96.15,589.33 L96.78,589.5 L97.41,589.68 L98.05,589.87 L98.68,590.07 L99.31,590.27 L99.94,590.48 L100.58,590.7 L101.21,590.93 L101.84,591.16 L102.47,591.4 L103.11,591.66 L103.74,591.92 L104.37,592.19 L105,592.46 L105.64,592.75 L106.27,593.05 L106.9,593.36 L107.53,593.68 L108.17,594.01 L108.8,594.35 L109.43,594.7 L110.06,595.06 L110.7,595.44 L111.33,595.83 L111.96,596.23 L112.59,596.64 L113.23,597.06 L113.86,597.5 L114.49,597.95 L115.12,598.41 L115.76,598.88 L116.39,599.37 L117.02,599.88 L117.65,600.39 L118.29,600.92 L118.92,601.47 L119.55,602.02 L120.18,602.6 L120.82,603.18 L121.45,603.78 L122.08,604.4 L122.71,605.02 L123.35,605.67 L123.98,606.32 L124.61,606.99 L125.24,607.67 L125.88,608.37 L126.51,609.08 L127.14,609.8 L127.77,610.54 L128.41,611.28 L129.04,612.04 L129.67,612.82 L130.3,613.6 L130.94,614.39 L131.57,615.19 L132.2,616.01 L132.83,616.83 L133.47,617.66 L134.1,618.5 L134.73,619.35 L135.36,620.2 L136,621.06 L136.63,621.92 L137.26,622.79 L137.89,623.67 L138.53,624.55 L139.16,625.43 L139.79,626.31 L140.42,627.19 L141.06,628.08 L141.69,628.96 L142.32,629.84 L142.95,630.73 L143.59,631.6 L144.22,632.48 L144.85,633.35 L145.48,634.22 L146.12,635.08 L146.75,635.93 L147.38,636.78 L148.01,637.62 L148.65,638.46 L149.28,639.28 L149.91,640.1 L150.54,640.9 L151.18,641.7 L151.81,642.49 L152.44,643.26 L153.07,644.02 L153.71,644.77 L154.34,645.51 L154.97,646.24 L155.6,646.95 L156.24,647.65 L156.87,648.34 L157.5,649.01 L158.13,649.67 L158.77,650.32 L159.4,650.95 L160.03,651.57 L160.66,652.17 L161.3,652.76 L161.93,653.34 L162.56,653.9 L163.19,654.45 L163.83,654.98 L164.46,655.5 L165.09,656.01 L165.72,656.5 L166.36,656.98 L166.99,657.45 L167.62,657.9 L168.25,658.34 L168.89,658.77 L169.52,659.19 L170.15,659.59 L170.78,659.98 L171.42,660.36 L172.05,660.72 L172.68,661.08 L173.31,661.42 L173.95,661.75 L174.58,662.08 L175.21,662.39 L175.84,662.69 L176.48,662.98 L177.11,663.26 L177.74,663.54 L178.37,663.8 L179.01,664.05 L179.64,664.3 L180.27,664.53 L180.9,664.76 L181.54,664.98 L182.17,665.2 L182.8,665.4 L183.43,665.6 L184.07,665.79 L184.7,665.98 L185.33,666.15 L185.96,666.32 L186.6,666.49 L187.23,666.65 L187.86,666.8 L188.49,666.95 L189.13,667.09 L189.76,667.22 L190.39,667.36 L191.02,667.48 L191.66,667.6 L192.29,667.72 L192.92,667.83 L193.55,667.94 L194.19,668.05 L194.82,668.15 L195.45,668.24 L196.08,668.34 L196.72,668.43 L197.35,668.51 L197.98,668.59 L198.61,668.67 L199.25,668.75 L199.88,668.82 L200.51,668.89 L201.14,668.96 L201.78,669.03 L202.41,669.09 L203.04,669.15 L203.67,669.21 L204.31,669.26 L204.94,669.32 L205.57,669.37 L206.2,669.42 L206.84,669.46 L207.47,669.51 L208.1,669.55" fill="none" stroke="#67ad45" stroke-width="1.1" stroke-linejoin="round"/>
<path d="M56.3,585.22 L56.93,585.23 L57.57,585.24 L58.2,585.26 L58.83,585.27 L59.46,585.29 L60.1,585.3 L60.73,585.32 L61.36,585.33 L61.99,585.35 L62.63,585.37 L63.26,585.38 L63.89,585.4 L64.52,585.42 L65.16,585.44 L65.79,585.47 L66.42,585.49 L67.05,585.51 L67.69,585.54 L68.32,585.56 L68.95,585.59 L69.58,585.62 L70.22,585.64 L70.85,585.67 L71.48,585.7 L72.11,585.74 L72.75,585.77 L73.38,585.81 L74.01,585.84 L74.64,585.88 L75.28,585.92 L75.91,585.96 L76.54,586 L77.17,586.05 L77.81,586.1 L78.44,586.14 L79.07,586.19 L79.7,586.25 L80.34,586.3 L80.97,586.36 L81.6,586.42 L82.23,586.48 L82.87,586.54 L83.5,586.61 L84.13,586.68 L84.76,586.75 L85.4,586.83 L86.03,586.9 L86.66,586.99 L87.29,587.07 L87.93,587.16 L88.56,587.25 L89.19,587.34 L89.82,587.44 L90.46,587.55 L91.09,587.65 L91.72,587.76 L92.35,587.88 L92.99,588 L93.62,588.12 L94.25,588.25 L94.88,588.39 L95.52,588.53 L96.15,588.67 L96.78,588.82 L97.41,588.98 L98.05,589.14 L98.68,589.31 L99.31,589.48 L99.94,589.66 L100.58,589.85 L101.21,590.05 L101.84,590.25 L102.47,590.46 L103.11,590.68 L103.74,590.9 L104.37,591.14 L105,591.38 L105.64,591.63 L106.27,591.89 L106.9,592.16 L107.53,592.43 L108.17,592.72 L108.8,593.02 L109.43,593.33 L110.06,593.65 L110.7,593.97 L111.33,594.31 L111.96,594.66 L112.59,595.03 L113.23,595.4 L113.86,595.78 L114.49,596.18 L115.12,596.59 L115.76,597.01 L116.39,597.45 L117.02,597.9 L117.65,598.36 L118.29,598.83 L118.92,599.32 L119.55,599.82 L120.18,600.34 L120.82,600.86 L121.45,601.41 L122.08,601.96 L122.71,602.53 L123.35,603.12 L123.98,603.72 L124.61,604.33 L125.24,604.96 L125.88,605.6 L126.51,606.25 L127.14,606.92 L127.77,607.6 L128.41,608.3 L129.04,609 L129.67,609.72 L130.3,610.46 L130.94,611.2 L131.57,611.96 L132.2,612.73 L132.83,613.51 L133.47,614.31 L134.1,615.11 L134.73,615.92 L135.36,616.74 L136,617.57 L136.63,618.41 L137.26,619.25 L137.89,620.11 L138.53,620.97 L139.16,621.83 L139.79,622.7 L140.42,623.57 L141.06,624.45 L141.69,625.33 L142.32,626.21 L142.95,627.1 L143.59,627.98 L144.22,628.87 L144.85,629.75 L145.48,630.63 L146.12,631.51 L146.75,632.39 L147.38,633.26 L148.01,634.13 L148.65,634.99 L149.28,635.84 L149.91,636.69 L150.54,637.54 L151.18,638.37 L151.81,639.2 L152.44,640.01 L153.07,640.82 L153.71,641.62 L154.34,642.4 L154.97,643.18 L155.6,643.94 L156.24,644.69 L156.87,645.43 L157.5,646.16 L158.13,646.88 L158.77,647.58 L159.4,648.27 L160.03,648.94 L160.66,649.6 L161.3,650.25 L161.93,650.88 L162.56,651.5 L163.19,652.11 L163.83,652.7 L164.46,653.28 L165.09,653.84 L165.72,654.39 L166.36,654.93 L166.99,655.45 L167.62,655.96 L168.25,656.45 L168.89,656.93 L169.52,657.4 L170.15,657.86 L170.78,658.3 L171.42,658.73 L172.05,659.14 L172.68,659.55 L173.31,659.94 L173.95,660.32 L174.58,660.68 L175.21,661.04 L175.84,661.39 L176.48,661.72 L177.11,662.04 L177.74,662.36 L178.37,662.66 L179.01,662.95 L179.64,663.23 L180.27,663.51 L180.9,663.77 L181.54,664.03 L182.17,664.27 L182.8,664.51 L183.43,664.74 L184.07,664.96 L184.7,665.17 L185.33,665.38 L185.96,665.58 L186.6,665.77 L187.23,665.96 L187.86,666.13 L188.49,666.31 L189.13,666.47 L189.76,666.63 L190.39,666.78 L191.02,666.93 L191.66,667.07 L192.29,667.21 L192.92,667.34 L193.55,667.47 L194.19,667.59 L194.82,667.71 L195.45,667.82 L196.08,667.93 L196.72,668.04 L197.35,668.14 L197.98,668.23 L198.61,668.33 L199.25,668.42 L199.88,668.5 L200.51,668.59 L201.14,668.66 L201.78,668.74 L202.41,668.82 L203.04,668.89 L203.67,668.95 L204.31,669.02 L204.94,669.08 L205.57,669.14 L206.2,669.2 L206.84,669.26 L207.47,669.31 L208.1,669.36" fill="none" stroke="#e8921e" stroke-width="1.1" stroke-linejoin="round"/>
<path d="M90.64,583.71 L92.54,587.32 L88.74,587.32 Z" fill="#24468a"/>
<line x1="102.32" y1="585.96" x2="102.32" y2="587.67" stroke="#24468a" stroke-width="0.9"/>
<line x1="100.42" y1="585.96" x2="104.22" y2="585.96" stroke="#24468a" stroke-width="0.9"/>
<line x1="100.42" y1="587.67" x2="104.22" y2="587.67" stroke="#24468a" stroke-width="0.9"/>
<path d="M102.32,584.74 L104.22,588.35 L100.42,588.35 Z" fill="#24468a"/>
<line x1="114" y1="588.44" x2="114" y2="591.01" stroke="#24468a" stroke-width="0.9"/>
<line x1="112.1" y1="588.44" x2="115.9" y2="588.44" stroke="#24468a" stroke-width="0.9"/>
<line x1="112.1" y1="591.01" x2="115.9" y2="591.01" stroke="#24468a" stroke-width="0.9"/>
<path d="M114,587.65 L115.9,591.26 L112.1,591.26 Z" fill="#24468a"/>
<line x1="125.68" y1="599.49" x2="125.68" y2="601.21" stroke="#24468a" stroke-width="0.9"/>
<line x1="123.78" y1="599.49" x2="127.58" y2="599.49" stroke="#24468a" stroke-width="0.9"/>
<line x1="123.78" y1="601.21" x2="127.58" y2="601.21" stroke="#24468a" stroke-width="0.9"/>
<path d="M125.68,598.27 L127.58,601.89 L123.78,601.89 Z" fill="#24468a"/>
<line x1="137.36" y1="610.55" x2="137.36" y2="613.12" stroke="#24468a" stroke-width="0.9"/>
<line x1="135.46" y1="610.55" x2="139.26" y2="610.55" stroke="#24468a" stroke-width="0.9"/>
<line x1="135.46" y1="613.12" x2="139.26" y2="613.12" stroke="#24468a" stroke-width="0.9"/>
<path d="M137.36,609.75 L139.26,613.37 L135.46,613.37 Z" fill="#24468a"/>
<line x1="149.04" y1="625.54" x2="149.04" y2="628.96" stroke="#24468a" stroke-width="0.9"/>
<line x1="147.14" y1="625.54" x2="150.94" y2="625.54" stroke="#24468a" stroke-width="0.9"/>
<line x1="147.14" y1="628.96" x2="150.94" y2="628.96" stroke="#24468a" stroke-width="0.9"/>
<path d="M149.04,625.17 L150.94,628.79 L147.14,628.79 Z" fill="#24468a"/>
<path d="M160.72,649.67 L162.62,653.29 L158.82,653.29 Z" fill="#24468a"/>
<path d="M172.4,666.81 L174.3,670.42 L170.5,670.42 Z" fill="#24468a"/>
<path d="M184.08,667.66 L185.98,671.28 L182.18,671.28 Z" fill="#24468a"/>
<path d="M195.76,668.52 L197.66,672.14 L193.86,672.14 Z" fill="#24468a"/>
<path d="M207.44,668.52 L209.34,672.14 L205.54,672.14 Z" fill="#24468a"/>
<rect x="88.83" y="586.55" width="3.62" height="3.62" fill="#67ad45"/>
<line x1="102.32" y1="590.84" x2="102.32" y2="593.41" stroke="#67ad45" stroke-width="0.9"/>
<line x1="100.42" y1="590.84" x2="104.22" y2="590.84" stroke="#67ad45" stroke-width="0.9"/>
<line x1="100.42" y1="593.41" x2="104.22" y2="593.41" stroke="#67ad45" stroke-width="0.9"/>
<rect x="100.51" y="590.32" width="3.62" height="3.62" fill="#67ad45"/>
<line x1="114" y1="600.18" x2="114" y2="602.75" stroke="#67ad45" stroke-width="0.9"/>
<line x1="112.1" y1="600.18" x2="115.9" y2="600.18" stroke="#67ad45" stroke-width="0.9"/>
<line x1="112.1" y1="602.75" x2="115.9" y2="602.75" stroke="#67ad45" stroke-width="0.9"/>
<rect x="112.19" y="599.66" width="3.62" height="3.62" fill="#67ad45"/>
<line x1="125.68" y1="611.83" x2="125.68" y2="614.4" stroke="#67ad45" stroke-width="0.9"/>
<line x1="123.78" y1="611.83" x2="127.58" y2="611.83" stroke="#67ad45" stroke-width="0.9"/>
<line x1="123.78" y1="614.4" x2="127.58" y2="614.4" stroke="#67ad45" stroke-width="0.9"/>
<rect x="123.87" y="611.31" width="3.62" height="3.62" fill="#67ad45"/>
<line x1="137.36" y1="622.45" x2="137.36" y2="625.02" stroke="#67ad45" stroke-width="0.9"/>
<line x1="135.46" y1="622.45" x2="139.26" y2="622.45" stroke="#67ad45" stroke-width="0.9"/>
<line x1="135.46" y1="625.02" x2="139.26" y2="625.02" stroke="#67ad45" stroke-width="0.9"/>
<rect x="135.55" y="621.93" width="3.62" height="3.62" fill="#67ad45"/>
<line x1="149.04" y1="635.05" x2="149.04" y2="637.62" stroke="#67ad45" stroke-width="0.9"/>
<line x1="147.14" y1="635.05" x2="150.94" y2="635.05" stroke="#67ad45" stroke-width="0.9"/>
<line x1="147.14" y1="637.62" x2="150.94" y2="637.62" stroke="#67ad45" stroke-width="0.9"/>
<rect x="147.23" y="634.52" width="3.62" height="3.62" fill="#67ad45"/>
<rect x="158.91" y="650.37" width="3.62" height="3.62" fill="#67ad45"/>
<line x1="172.4" y1="665.89" x2="172.4" y2="668.46" stroke="#67ad45" stroke-width="0.9"/>
<line x1="170.5" y1="665.89" x2="174.3" y2="665.89" stroke="#67ad45" stroke-width="0.9"/>
<line x1="170.5" y1="668.46" x2="174.3" y2="668.46" stroke="#67ad45" stroke-width="0.9"/>
<rect x="170.59" y="665.37" width="3.62" height="3.62" fill="#67ad45"/>
<rect x="182.27" y="668.79" width="3.62" height="3.62" fill="#67ad45"/>
<rect x="193.95" y="668.79" width="3.62" height="3.62" fill="#67ad45"/>
<rect x="205.63" y="668.79" width="3.62" height="3.62" fill="#67ad45"/>
<circle cx="90.64" cy="587.59" r="1.81" fill="#e8921e"/>
<circle cx="102.32" cy="595.72" r="1.81" fill="#e8921e"/>
<circle cx="114" cy="600.61" r="1.81" fill="#e8921e"/>
<circle cx="125.68" cy="609.77" r="1.81" fill="#e8921e"/>
<circle cx="137.36" cy="619.8" r="1.81" fill="#e8921e"/>
<circle cx="149.04" cy="633.16" r="1.81" fill="#e8921e"/>
<circle cx="160.72" cy="649.87" r="1.81" fill="#e8921e"/>
<circle cx="172.4" cy="666.32" r="1.81" fill="#e8921e"/>
<circle cx="184.08" cy="670.6" r="1.81" fill="#e8921e"/>
<circle cx="195.76" cy="670.6" r="1.81" fill="#e8921e"/>
<circle cx="207.44" cy="670.6" r="1.81" fill="#e8921e"/>
<line x1="90.64" y1="579.36" x2="90.64" y2="583.64" stroke="#b4123c" stroke-width="0.9"/>
<line x1="88.74" y1="579.36" x2="92.54" y2="579.36" stroke="#b4123c" stroke-width="0.9"/>
<line x1="88.74" y1="583.64" x2="92.54" y2="583.64" stroke="#b4123c" stroke-width="0.9"/>
<path d="M90.64,583.58 L92.54,579.97 L88.74,579.97 Z" fill="#b4123c"/>
<line x1="102.32" y1="575.08" x2="102.32" y2="581.07" stroke="#b4123c" stroke-width="0.9"/>
<line x1="100.42" y1="575.08" x2="104.22" y2="575.08" stroke="#b4123c" stroke-width="0.9"/>
<line x1="100.42" y1="581.07" x2="104.22" y2="581.07" stroke="#b4123c" stroke-width="0.9"/>
<path d="M102.32,580.16 L104.22,576.54 L100.42,576.54 Z" fill="#b4123c"/>
<line x1="114" y1="572.08" x2="114" y2="580.65" stroke="#b4123c" stroke-width="0.9"/>
<line x1="112.1" y1="572.08" x2="115.9" y2="572.08" stroke="#b4123c" stroke-width="0.9"/>
<line x1="112.1" y1="580.65" x2="115.9" y2="580.65" stroke="#b4123c" stroke-width="0.9"/>
<path d="M114,578.44 L115.9,574.83 L112.1,574.83 Z" fill="#b4123c"/>
<line x1="125.68" y1="573.36" x2="125.68" y2="581.07" stroke="#b4123c" stroke-width="0.9"/>
<line x1="123.78" y1="573.36" x2="127.58" y2="573.36" stroke="#b4123c" stroke-width="0.9"/>
<line x1="123.78" y1="581.07" x2="127.58" y2="581.07" stroke="#b4123c" stroke-width="0.9"/>
<path d="M125.68,579.3 L127.58,575.68 L123.78,575.68 Z" fill="#b4123c"/>
<line x1="137.36" y1="568.65" x2="137.36" y2="578.93" stroke="#b4123c" stroke-width="0.9"/>
<line x1="135.46" y1="568.65" x2="139.26" y2="568.65" stroke="#b4123c" stroke-width="0.9"/>
<line x1="135.46" y1="578.93" x2="139.26" y2="578.93" stroke="#b4123c" stroke-width="0.9"/>
<path d="M137.36,575.87 L139.26,572.26 L135.46,572.26 Z" fill="#b4123c"/>
<line x1="149.04" y1="581.93" x2="149.04" y2="587.93" stroke="#b4123c" stroke-width="0.9"/>
<line x1="147.14" y1="581.93" x2="150.94" y2="581.93" stroke="#b4123c" stroke-width="0.9"/>
<line x1="147.14" y1="587.93" x2="150.94" y2="587.93" stroke="#b4123c" stroke-width="0.9"/>
<path d="M149.04,587.01 L150.94,583.39 L147.14,583.39 Z" fill="#b4123c"/>
<line x1="160.72" y1="659.46" x2="160.72" y2="662.89" stroke="#b4123c" stroke-width="0.9"/>
<line x1="158.82" y1="659.46" x2="162.62" y2="659.46" stroke="#b4123c" stroke-width="0.9"/>
<line x1="158.82" y1="662.89" x2="162.62" y2="662.89" stroke="#b4123c" stroke-width="0.9"/>
<path d="M160.72,663.26 L162.62,659.64 L158.82,659.64 Z" fill="#b4123c"/>
<circle cx="56.3" cy="584.93" r="2.15" fill="#e8921e"/>
<line x1="280.5" y1="565.6" x2="280.5" y2="671.3" stroke="#1a1818" stroke-width="1.35"/>
<line x1="277.4" y1="670.6" x2="280.5" y2="670.6" stroke="#1a1818" stroke-width="1.1"/>
<text x="274.2" y="673.5" font-size="9" text-anchor="end">0</text>
<line x1="277.4" y1="653.47" x2="280.5" y2="653.47" stroke="#1a1818" stroke-width="1.1"/>
<text x="274.2" y="656.37" font-size="9" text-anchor="end">20</text>
<line x1="277.4" y1="636.33" x2="280.5" y2="636.33" stroke="#1a1818" stroke-width="1.1"/>
<text x="274.2" y="639.23" font-size="9" text-anchor="end">40</text>
<line x1="277.4" y1="619.2" x2="280.5" y2="619.2" stroke="#1a1818" stroke-width="1.1"/>
<text x="274.2" y="622.1" font-size="9" text-anchor="end">60</text>
<line x1="277.4" y1="602.06" x2="280.5" y2="602.06" stroke="#1a1818" stroke-width="1.1"/>
<text x="274.2" y="604.96" font-size="9" text-anchor="end">80</text>
<line x1="277.4" y1="584.93" x2="280.5" y2="584.93" stroke="#1a1818" stroke-width="1.1"/>
<text x="274.2" y="587.83" font-size="9" text-anchor="end">100</text>
<line x1="277.4" y1="567.8" x2="280.5" y2="567.8" stroke="#1a1818" stroke-width="1.1"/>
<text x="274.2" y="570.7" font-size="9" text-anchor="end">120</text>
<line x1="279.9" y1="670.8" x2="434.1" y2="670.8" stroke="#1a1818" stroke-width="1.4"/>
<line x1="299.8" y1="670.8" x2="299.8" y2="673.8" stroke="#1a1818" stroke-width="1"/>
<text x="299.8" y="685.1" font-size="9.4" text-anchor="middle">0.01</text>
<line x1="338.6" y1="670.8" x2="338.6" y2="673.8" stroke="#1a1818" stroke-width="1"/>
<text x="338.6" y="685.1" font-size="9.4" text-anchor="middle">0.1</text>
<line x1="377.4" y1="670.8" x2="377.4" y2="673.8" stroke="#1a1818" stroke-width="1"/>
<text x="377.4" y="685.1" font-size="9.4" text-anchor="middle">1</text>
<line x1="416.2" y1="670.8" x2="416.2" y2="673.8" stroke="#1a1818" stroke-width="1"/>
<text x="416.2" y="685.1" font-size="9.4" text-anchor="middle">10</text>
<text x="327.7" y="699.2" font-size="10.4" textLength="60.6" lengthAdjust="spacingAndGlyphs">Ruxolitinib (µM)</text>
<text x="344.8" y="558.7" font-size="10" textLength="26.5" lengthAdjust="spacingAndGlyphs">Ba/F3</text>
<g transform="translate(253.7,634) rotate(-90)">
<text x="0" y="0" font-size="10.5" textLength="33" lengthAdjust="spacingAndGlyphs">% control</text>
</g>
<path d="M280.5,584.93 L281.13,584.93 L281.77,584.93 L282.4,584.93 L283.03,584.93 L283.66,584.93 L284.3,584.93 L284.93,584.93 L285.56,584.93 L286.19,584.93 L286.83,584.93 L287.46,584.93 L288.09,584.93 L288.72,584.93 L289.36,584.93 L289.99,584.93 L290.62,584.93 L291.25,584.93 L291.89,584.93 L292.52,584.93 L293.15,584.93 L293.78,584.93 L294.42,584.93 L295.05,584.93 L295.68,584.93 L296.31,584.93 L296.95,584.93 L297.58,584.93 L298.21,584.93 L298.84,584.93 L299.48,584.93 L300.11,584.93 L300.74,584.93 L301.37,584.94 L302.01,584.94 L302.64,584.94 L303.27,584.94 L303.9,584.94 L304.54,584.94 L305.17,584.94 L305.8,584.94 L306.43,584.94 L307.07,584.94 L307.7,584.94 L308.33,584.94 L308.96,584.94 L309.6,584.95 L310.23,584.95 L310.86,584.95 L311.49,584.95 L312.13,584.95 L312.76,584.95 L313.39,584.96 L314.02,584.96 L314.66,584.96 L315.29,584.96 L315.92,584.97 L316.55,584.97 L317.19,584.97 L317.82,584.98 L318.45,584.98 L319.08,584.98 L319.72,584.99 L320.35,584.99 L320.98,585 L321.61,585.01 L322.25,585.01 L322.88,585.02 L323.51,585.03 L324.14,585.04 L324.78,585.04 L325.41,585.05 L326.04,585.07 L326.67,585.08 L327.31,585.09 L327.94,585.1 L328.57,585.12 L329.2,585.13 L329.84,585.15 L330.47,585.17 L331.1,585.19 L331.73,585.21 L332.37,585.24 L333,585.26 L333.63,585.29 L334.26,585.32 L334.9,585.36 L335.53,585.4 L336.16,585.43 L336.79,585.48 L337.43,585.53 L338.06,585.58 L338.69,585.63 L339.32,585.69 L339.96,585.76 L340.59,585.83 L341.22,585.9 L341.85,585.98 L342.49,586.07 L343.12,586.17 L343.75,586.28 L344.38,586.39 L345.02,586.51 L345.65,586.65 L346.28,586.79 L346.91,586.95 L347.55,587.12 L348.18,587.3 L348.81,587.5 L349.44,587.71 L350.08,587.94 L350.71,588.19 L351.34,588.46 L351.97,588.75 L352.61,589.07 L353.24,589.41 L353.87,589.77 L354.5,590.16 L355.14,590.58 L355.77,591.03 L356.4,591.52 L357.03,592.04 L357.67,592.59 L358.3,593.19 L358.93,593.83 L359.56,594.51 L360.2,595.23 L360.83,596.01 L361.46,596.83 L362.09,597.7 L362.73,598.62 L363.36,599.6 L363.99,600.63 L364.62,601.72 L365.26,602.86 L365.89,604.06 L366.52,605.31 L367.15,606.62 L367.79,607.99 L368.42,609.41 L369.05,610.88 L369.68,612.39 L370.32,613.96 L370.95,615.56 L371.58,617.21 L372.21,618.88 L372.85,620.59 L373.48,622.32 L374.11,624.07 L374.74,625.83 L375.38,627.6 L376.01,629.36 L376.64,631.13 L377.27,632.88 L377.91,634.61 L378.54,636.32 L379.17,638 L379.8,639.66 L380.44,641.27 L381.07,642.84 L381.7,644.37 L382.33,645.84 L382.97,647.27 L383.6,648.65 L384.23,649.97 L384.86,651.23 L385.5,652.44 L386.13,653.6 L386.76,654.69 L387.39,655.74 L388.03,656.72 L388.66,657.66 L389.29,658.54 L389.92,659.37 L390.56,660.15 L391.19,660.89 L391.82,661.57 L392.45,662.22 L393.09,662.82 L393.72,663.39 L394.35,663.92 L394.98,664.41 L395.62,664.86 L396.25,665.29 L396.88,665.69 L397.51,666.06 L398.15,666.4 L398.78,666.72 L399.41,667.01 L400.04,667.29 L400.68,667.54 L401.31,667.77 L401.94,667.99 L402.57,668.19 L403.21,668.38 L403.84,668.55 L404.47,668.71 L405.1,668.86 L405.74,668.99 L406.37,669.12 L407,669.23 L407.63,669.34 L408.27,669.44 L408.9,669.53 L409.53,669.61 L410.16,669.69 L410.8,669.76 L411.43,669.83 L412.06,669.89 L412.69,669.94 L413.33,670 L413.96,670.04 L414.59,670.09 L415.22,670.13 L415.86,670.16 L416.49,670.2 L417.12,670.23 L417.75,670.26 L418.39,670.29 L419.02,670.31 L419.65,670.33 L420.28,670.36 L420.92,670.37 L421.55,670.39 L422.18,670.41 L422.81,670.42 L423.45,670.44 L424.08,670.45 L424.71,670.46 L425.34,670.47 L425.98,670.48 L426.61,670.49 L427.24,670.5 L427.87,670.51 L428.51,670.52 L429.14,670.52 L429.77,670.53 L430.4,670.53 L431.04,670.54 L431.67,670.54 L432.3,670.55" fill="none" stroke="#b4123c" stroke-width="1.1" stroke-linejoin="round"/>
<path d="M280.5,588.71 L281.13,588.83 L281.77,588.96 L282.4,589.09 L283.03,589.23 L283.66,589.37 L284.3,589.51 L284.93,589.66 L285.56,589.82 L286.19,589.97 L286.83,590.14 L287.46,590.3 L288.09,590.48 L288.72,590.65 L289.36,590.84 L289.99,591.03 L290.62,591.22 L291.25,591.42 L291.89,591.63 L292.52,591.84 L293.15,592.05 L293.78,592.28 L294.42,592.51 L295.05,592.75 L295.68,592.99 L296.31,593.24 L296.95,593.5 L297.58,593.76 L298.21,594.03 L298.84,594.31 L299.48,594.6 L300.11,594.89 L300.74,595.19 L301.37,595.5 L302.01,595.82 L302.64,596.14 L303.27,596.47 L303.9,596.82 L304.54,597.17 L305.17,597.52 L305.8,597.89 L306.43,598.27 L307.07,598.65 L307.7,599.05 L308.33,599.45 L308.96,599.86 L309.6,600.28 L310.23,600.71 L310.86,601.15 L311.49,601.6 L312.13,602.06 L312.76,602.53 L313.39,603 L314.02,603.49 L314.66,603.99 L315.29,604.49 L315.92,605.01 L316.55,605.53 L317.19,606.06 L317.82,606.61 L318.45,607.16 L319.08,607.72 L319.72,608.29 L320.35,608.87 L320.98,609.45 L321.61,610.05 L322.25,610.65 L322.88,611.26 L323.51,611.88 L324.14,612.51 L324.78,613.15 L325.41,613.79 L326.04,614.44 L326.67,615.1 L327.31,615.76 L327.94,616.43 L328.57,617.11 L329.2,617.79 L329.84,618.48 L330.47,619.17 L331.1,619.86 L331.73,620.57 L332.37,621.27 L333,621.98 L333.63,622.69 L334.26,623.41 L334.9,624.12 L335.53,624.84 L336.16,625.56 L336.79,626.29 L337.43,627.01 L338.06,627.73 L338.69,628.46 L339.32,629.18 L339.96,629.9 L340.59,630.62 L341.22,631.34 L341.85,632.06 L342.49,632.77 L343.12,633.49 L343.75,634.19 L344.38,634.9 L345.02,635.6 L345.65,636.3 L346.28,636.99 L346.91,637.68 L347.55,638.36 L348.18,639.04 L348.81,639.71 L349.44,640.37 L350.08,641.03 L350.71,641.68 L351.34,642.32 L351.97,642.96 L352.61,643.59 L353.24,644.21 L353.87,644.82 L354.5,645.43 L355.14,646.02 L355.77,646.61 L356.4,647.19 L357.03,647.76 L357.67,648.32 L358.3,648.87 L358.93,649.42 L359.56,649.95 L360.2,650.48 L360.83,650.99 L361.46,651.5 L362.09,651.99 L362.73,652.48 L363.36,652.96 L363.99,653.43 L364.62,653.89 L365.26,654.34 L365.89,654.78 L366.52,655.21 L367.15,655.63 L367.79,656.04 L368.42,656.45 L369.05,656.84 L369.68,657.23 L370.32,657.6 L370.95,657.97 L371.58,658.33 L372.21,658.68 L372.85,659.02 L373.48,659.36 L374.11,659.68 L374.74,660 L375.38,660.31 L376.01,660.61 L376.64,660.91 L377.27,661.19 L377.91,661.47 L378.54,661.75 L379.17,662.01 L379.8,662.27 L380.44,662.52 L381.07,662.76 L381.7,663 L382.33,663.23 L382.97,663.45 L383.6,663.67 L384.23,663.89 L384.86,664.09 L385.5,664.29 L386.13,664.49 L386.76,664.68 L387.39,664.86 L388.03,665.04 L388.66,665.21 L389.29,665.38 L389.92,665.54 L390.56,665.7 L391.19,665.85 L391.82,666 L392.45,666.15 L393.09,666.29 L393.72,666.42 L394.35,666.56 L394.98,666.68 L395.62,666.81 L396.25,666.93 L396.88,667.05 L397.51,667.16 L398.15,667.27 L398.78,667.38 L399.41,667.48 L400.04,667.58 L400.68,667.68 L401.31,667.77 L401.94,667.86 L402.57,667.95 L403.21,668.03 L403.84,668.12 L404.47,668.2 L405.1,668.28 L405.74,668.35 L406.37,668.42 L407,668.49 L407.63,668.56 L408.27,668.63 L408.9,668.69 L409.53,668.75 L410.16,668.81 L410.8,668.87 L411.43,668.93 L412.06,668.98 L412.69,669.04 L413.33,669.09 L413.96,669.14 L414.59,669.18 L415.22,669.23 L415.86,669.28 L416.49,669.32 L417.12,669.36 L417.75,669.4 L418.39,669.44 L419.02,669.48 L419.65,669.52 L420.28,669.55 L420.92,669.59 L421.55,669.62 L422.18,669.65 L422.81,669.68 L423.45,669.71 L424.08,669.74 L424.71,669.77 L425.34,669.8 L425.98,669.82 L426.61,669.85 L427.24,669.87 L427.87,669.9 L428.51,669.92 L429.14,669.94 L429.77,669.96 L430.4,669.99 L431.04,670.01 L431.67,670.03 L432.3,670.04" fill="none" stroke="#24468a" stroke-width="1.1" stroke-linejoin="round"/>
<path d="M280.5,590.46 L281.13,590.62 L281.77,590.78 L282.4,590.95 L283.03,591.13 L283.66,591.31 L284.3,591.49 L284.93,591.68 L285.56,591.87 L286.19,592.07 L286.83,592.28 L287.46,592.49 L288.09,592.7 L288.72,592.92 L289.36,593.15 L289.99,593.38 L290.62,593.61 L291.25,593.86 L291.89,594.11 L292.52,594.36 L293.15,594.62 L293.78,594.89 L294.42,595.17 L295.05,595.45 L295.68,595.73 L296.31,596.03 L296.95,596.33 L297.58,596.64 L298.21,596.95 L298.84,597.27 L299.48,597.6 L300.11,597.94 L300.74,598.28 L301.37,598.63 L302.01,598.99 L302.64,599.35 L303.27,599.73 L303.9,600.11 L304.54,600.5 L305.17,600.89 L305.8,601.3 L306.43,601.71 L307.07,602.13 L307.7,602.55 L308.33,602.99 L308.96,603.43 L309.6,603.88 L310.23,604.34 L310.86,604.8 L311.49,605.28 L312.13,605.76 L312.76,606.25 L313.39,606.75 L314.02,607.25 L314.66,607.76 L315.29,608.28 L315.92,608.81 L316.55,609.34 L317.19,609.88 L317.82,610.43 L318.45,610.98 L319.08,611.55 L319.72,612.11 L320.35,612.69 L320.98,613.27 L321.61,613.86 L322.25,614.45 L322.88,615.05 L323.51,615.65 L324.14,616.26 L324.78,616.87 L325.41,617.49 L326.04,618.12 L326.67,618.74 L327.31,619.38 L327.94,620.01 L328.57,620.65 L329.2,621.29 L329.84,621.94 L330.47,622.59 L331.1,623.24 L331.73,623.89 L332.37,624.55 L333,625.2 L333.63,625.86 L334.26,626.52 L334.9,627.18 L335.53,627.84 L336.16,628.49 L336.79,629.15 L337.43,629.81 L338.06,630.47 L338.69,631.12 L339.32,631.78 L339.96,632.43 L340.59,633.08 L341.22,633.73 L341.85,634.37 L342.49,635.02 L343.12,635.66 L343.75,636.29 L344.38,636.92 L345.02,637.55 L345.65,638.17 L346.28,638.79 L346.91,639.4 L347.55,640.01 L348.18,640.61 L348.81,641.21 L349.44,641.8 L350.08,642.39 L350.71,642.97 L351.34,643.54 L351.97,644.11 L352.61,644.67 L353.24,645.22 L353.87,645.76 L354.5,646.3 L355.14,646.84 L355.77,647.36 L356.4,647.88 L357.03,648.39 L357.67,648.89 L358.3,649.39 L358.93,649.87 L359.56,650.35 L360.2,650.83 L360.83,651.29 L361.46,651.75 L362.09,652.2 L362.73,652.64 L363.36,653.07 L363.99,653.49 L364.62,653.91 L365.26,654.32 L365.89,654.72 L366.52,655.12 L367.15,655.5 L367.79,655.88 L368.42,656.25 L369.05,656.62 L369.68,656.97 L370.32,657.32 L370.95,657.67 L371.58,658 L372.21,658.33 L372.85,658.65 L373.48,658.96 L374.11,659.27 L374.74,659.57 L375.38,659.86 L376.01,660.14 L376.64,660.42 L377.27,660.7 L377.91,660.96 L378.54,661.22 L379.17,661.48 L379.8,661.72 L380.44,661.97 L381.07,662.2 L381.7,662.43 L382.33,662.66 L382.97,662.88 L383.6,663.09 L384.23,663.3 L384.86,663.5 L385.5,663.7 L386.13,663.89 L386.76,664.08 L387.39,664.26 L388.03,664.44 L388.66,664.61 L389.29,664.78 L389.92,664.95 L390.56,665.11 L391.19,665.26 L391.82,665.42 L392.45,665.56 L393.09,665.71 L393.72,665.85 L394.35,665.98 L394.98,666.12 L395.62,666.25 L396.25,666.37 L396.88,666.49 L397.51,666.61 L398.15,666.73 L398.78,666.84 L399.41,666.95 L400.04,667.06 L400.68,667.16 L401.31,667.26 L401.94,667.36 L402.57,667.45 L403.21,667.54 L403.84,667.63 L404.47,667.72 L405.1,667.8 L405.74,667.89 L406.37,667.97 L407,668.04 L407.63,668.12 L408.27,668.19 L408.9,668.26 L409.53,668.33 L410.16,668.4 L410.8,668.46 L411.43,668.53 L412.06,668.59 L412.69,668.65 L413.33,668.71 L413.96,668.76 L414.59,668.82 L415.22,668.87 L415.86,668.92 L416.49,668.97 L417.12,669.02 L417.75,669.07 L418.39,669.11 L419.02,669.16 L419.65,669.2 L420.28,669.24 L420.92,669.28 L421.55,669.32 L422.18,669.36 L422.81,669.4 L423.45,669.43 L424.08,669.47 L424.71,669.5 L425.34,669.53 L425.98,669.57 L426.61,669.6 L427.24,669.63 L427.87,669.66 L428.51,669.68 L429.14,669.71 L429.77,669.74 L430.4,669.76 L431.04,669.79 L431.67,669.81 L432.3,669.84" fill="none" stroke="#67ad45" stroke-width="1.1" stroke-linejoin="round"/>
<path d="M280.5,590.97 L281.13,591.14 L281.77,591.31 L282.4,591.49 L283.03,591.67 L283.66,591.86 L284.3,592.06 L284.93,592.26 L285.56,592.46 L286.19,592.67 L286.83,592.88 L287.46,593.1 L288.09,593.33 L288.72,593.56 L289.36,593.79 L289.99,594.03 L290.62,594.28 L291.25,594.53 L291.89,594.79 L292.52,595.06 L293.15,595.33 L293.78,595.61 L294.42,595.89 L295.05,596.18 L295.68,596.48 L296.31,596.78 L296.95,597.09 L297.58,597.41 L298.21,597.73 L298.84,598.06 L299.48,598.4 L300.11,598.74 L300.74,599.1 L301.37,599.45 L302.01,599.82 L302.64,600.19 L303.27,600.57 L303.9,600.96 L304.54,601.36 L305.17,601.76 L305.8,602.17 L306.43,602.59 L307.07,603.01 L307.7,603.44 L308.33,603.88 L308.96,604.33 L309.6,604.78 L310.23,605.24 L310.86,605.71 L311.49,606.19 L312.13,606.67 L312.76,607.16 L313.39,607.66 L314.02,608.17 L314.66,608.68 L315.29,609.2 L315.92,609.72 L316.55,610.26 L317.19,610.8 L317.82,611.34 L318.45,611.89 L319.08,612.45 L319.72,613.01 L320.35,613.58 L320.98,614.16 L321.61,614.74 L322.25,615.33 L322.88,615.92 L323.51,616.51 L324.14,617.12 L324.78,617.72 L325.41,618.33 L326.04,618.95 L326.67,619.56 L327.31,620.18 L327.94,620.81 L328.57,621.44 L329.2,622.07 L329.84,622.7 L330.47,623.34 L331.1,623.97 L331.73,624.61 L332.37,625.25 L333,625.89 L333.63,626.54 L334.26,627.18 L334.9,627.82 L335.53,628.46 L336.16,629.11 L336.79,629.75 L337.43,630.39 L338.06,631.03 L338.69,631.67 L339.32,632.31 L339.96,632.94 L340.59,633.57 L341.22,634.2 L341.85,634.83 L342.49,635.45 L343.12,636.08 L343.75,636.69 L344.38,637.31 L345.02,637.92 L345.65,638.52 L346.28,639.12 L346.91,639.72 L347.55,640.31 L348.18,640.89 L348.81,641.47 L349.44,642.05 L350.08,642.61 L350.71,643.18 L351.34,643.73 L351.97,644.29 L352.61,644.83 L353.24,645.37 L353.87,645.9 L354.5,646.42 L355.14,646.94 L355.77,647.45 L356.4,647.96 L357.03,648.45 L357.67,648.94 L358.3,649.42 L358.93,649.9 L359.56,650.37 L360.2,650.83 L360.83,651.28 L361.46,651.73 L362.09,652.16 L362.73,652.59 L363.36,653.02 L363.99,653.43 L364.62,653.84 L365.26,654.24 L365.89,654.64 L366.52,655.02 L367.15,655.4 L367.79,655.77 L368.42,656.14 L369.05,656.5 L369.68,656.85 L370.32,657.19 L370.95,657.53 L371.58,657.86 L372.21,658.18 L372.85,658.49 L373.48,658.8 L374.11,659.1 L374.74,659.4 L375.38,659.69 L376.01,659.97 L376.64,660.25 L377.27,660.52 L377.91,660.78 L378.54,661.04 L379.17,661.29 L379.8,661.54 L380.44,661.78 L381.07,662.01 L381.7,662.24 L382.33,662.47 L382.97,662.69 L383.6,662.9 L384.23,663.11 L384.86,663.31 L385.5,663.51 L386.13,663.7 L386.76,663.89 L387.39,664.07 L388.03,664.25 L388.66,664.42 L389.29,664.59 L389.92,664.76 L390.56,664.92 L391.19,665.08 L391.82,665.23 L392.45,665.38 L393.09,665.53 L393.72,665.67 L394.35,665.81 L394.98,665.94 L395.62,666.07 L396.25,666.2 L396.88,666.32 L397.51,666.44 L398.15,666.56 L398.78,666.67 L399.41,666.78 L400.04,666.89 L400.68,667 L401.31,667.1 L401.94,667.2 L402.57,667.29 L403.21,667.39 L403.84,667.48 L404.47,667.57 L405.1,667.66 L405.74,667.74 L406.37,667.82 L407,667.9 L407.63,667.98 L408.27,668.05 L408.9,668.13 L409.53,668.2 L410.16,668.27 L410.8,668.33 L411.43,668.4 L412.06,668.46 L412.69,668.53 L413.33,668.59 L413.96,668.64 L414.59,668.7 L415.22,668.76 L415.86,668.81 L416.49,668.86 L417.12,668.91 L417.75,668.96 L418.39,669.01 L419.02,669.05 L419.65,669.1 L420.28,669.14 L420.92,669.18 L421.55,669.23 L422.18,669.27 L422.81,669.3 L423.45,669.34 L424.08,669.38 L424.71,669.41 L425.34,669.45 L425.98,669.48 L426.61,669.52 L427.24,669.55 L427.87,669.58 L428.51,669.61 L429.14,669.64 L429.77,669.67 L430.4,669.69 L431.04,669.72 L431.67,669.74 L432.3,669.77" fill="none" stroke="#e8921e" stroke-width="1.1" stroke-linejoin="round"/>
<line x1="314.84" y1="602.24" x2="314.84" y2="606.52" stroke="#24468a" stroke-width="0.9"/>
<line x1="312.94" y1="602.24" x2="316.74" y2="602.24" stroke="#24468a" stroke-width="0.9"/>
<line x1="312.94" y1="606.52" x2="316.74" y2="606.52" stroke="#24468a" stroke-width="0.9"/>
<path d="M314.84,602.3 L316.74,605.91 L312.94,605.91 Z" fill="#24468a"/>
<line x1="326.52" y1="613.97" x2="326.52" y2="618.26" stroke="#24468a" stroke-width="0.9"/>
<line x1="324.62" y1="613.97" x2="328.42" y2="613.97" stroke="#24468a" stroke-width="0.9"/>
<line x1="324.62" y1="618.26" x2="328.42" y2="618.26" stroke="#24468a" stroke-width="0.9"/>
<path d="M326.52,614.03 L328.42,617.65 L324.62,617.65 Z" fill="#24468a"/>
<line x1="338.2" y1="626.05" x2="338.2" y2="631.19" stroke="#24468a" stroke-width="0.9"/>
<line x1="336.3" y1="626.05" x2="340.1" y2="626.05" stroke="#24468a" stroke-width="0.9"/>
<line x1="336.3" y1="631.19" x2="340.1" y2="631.19" stroke="#24468a" stroke-width="0.9"/>
<path d="M338.2,626.54 L340.1,630.16 L336.3,630.16 Z" fill="#24468a"/>
<line x1="349.88" y1="638.99" x2="349.88" y2="643.27" stroke="#24468a" stroke-width="0.9"/>
<line x1="347.98" y1="638.99" x2="351.78" y2="638.99" stroke="#24468a" stroke-width="0.9"/>
<line x1="347.98" y1="643.27" x2="351.78" y2="643.27" stroke="#24468a" stroke-width="0.9"/>
<path d="M349.88,639.05 L351.78,642.67 L347.98,642.67 Z" fill="#24468a"/>
<line x1="361.56" y1="649.87" x2="361.56" y2="652.44" stroke="#24468a" stroke-width="0.9"/>
<line x1="359.66" y1="649.87" x2="363.46" y2="649.87" stroke="#24468a" stroke-width="0.9"/>
<line x1="359.66" y1="652.44" x2="363.46" y2="652.44" stroke="#24468a" stroke-width="0.9"/>
<path d="M361.56,649.07 L363.46,652.69 L359.66,652.69 Z" fill="#24468a"/>
<line x1="373.24" y1="657.75" x2="373.24" y2="659.46" stroke="#24468a" stroke-width="0.9"/>
<line x1="371.34" y1="657.75" x2="375.14" y2="657.75" stroke="#24468a" stroke-width="0.9"/>
<line x1="371.34" y1="659.46" x2="375.14" y2="659.46" stroke="#24468a" stroke-width="0.9"/>
<path d="M373.24,656.53 L375.14,660.14 L371.34,660.14 Z" fill="#24468a"/>
<path d="M384.92,664.24 L386.82,667.85 L383.02,667.85 Z" fill="#24468a"/>
<path d="M396.6,667.66 L398.5,671.28 L394.7,671.28 Z" fill="#24468a"/>
<path d="M408.28,668.52 L410.18,672.14 L406.38,672.14 Z" fill="#24468a"/>
<path d="M419.96,668.52 L421.86,672.14 L418.06,672.14 Z" fill="#24468a"/>
<path d="M431.64,668.52 L433.54,672.14 L429.74,672.14 Z" fill="#24468a"/>
<line x1="314.84" y1="609.77" x2="314.84" y2="614.91" stroke="#67ad45" stroke-width="0.9"/>
<line x1="312.94" y1="609.77" x2="316.74" y2="609.77" stroke="#67ad45" stroke-width="0.9"/>
<line x1="312.94" y1="614.91" x2="316.74" y2="614.91" stroke="#67ad45" stroke-width="0.9"/>
<rect x="313.03" y="610.54" width="3.62" height="3.62" fill="#67ad45"/>
<line x1="326.52" y1="620.91" x2="326.52" y2="626.05" stroke="#67ad45" stroke-width="0.9"/>
<line x1="324.62" y1="620.91" x2="328.42" y2="620.91" stroke="#67ad45" stroke-width="0.9"/>
<line x1="324.62" y1="626.05" x2="328.42" y2="626.05" stroke="#67ad45" stroke-width="0.9"/>
<rect x="324.71" y="621.67" width="3.62" height="3.62" fill="#67ad45"/>
<line x1="338.2" y1="630.34" x2="338.2" y2="635.48" stroke="#67ad45" stroke-width="0.9"/>
<line x1="336.3" y1="630.34" x2="340.1" y2="630.34" stroke="#67ad45" stroke-width="0.9"/>
<line x1="336.3" y1="635.48" x2="340.1" y2="635.48" stroke="#67ad45" stroke-width="0.9"/>
<rect x="336.39" y="631.1" width="3.62" height="3.62" fill="#67ad45"/>
<line x1="349.88" y1="639.76" x2="349.88" y2="644.9" stroke="#67ad45" stroke-width="0.9"/>
<line x1="347.98" y1="639.76" x2="351.78" y2="639.76" stroke="#67ad45" stroke-width="0.9"/>
<line x1="347.98" y1="644.9" x2="351.78" y2="644.9" stroke="#67ad45" stroke-width="0.9"/>
<rect x="348.07" y="640.52" width="3.62" height="3.62" fill="#67ad45"/>
<line x1="361.56" y1="650.04" x2="361.56" y2="653.47" stroke="#67ad45" stroke-width="0.9"/>
<line x1="359.66" y1="650.04" x2="363.46" y2="650.04" stroke="#67ad45" stroke-width="0.9"/>
<line x1="359.66" y1="653.47" x2="363.46" y2="653.47" stroke="#67ad45" stroke-width="0.9"/>
<rect x="359.75" y="649.94" width="3.62" height="3.62" fill="#67ad45"/>
<line x1="373.24" y1="658.61" x2="373.24" y2="660.32" stroke="#67ad45" stroke-width="0.9"/>
<line x1="371.34" y1="658.61" x2="375.14" y2="658.61" stroke="#67ad45" stroke-width="0.9"/>
<line x1="371.34" y1="660.32" x2="375.14" y2="660.32" stroke="#67ad45" stroke-width="0.9"/>
<rect x="371.43" y="657.65" width="3.62" height="3.62" fill="#67ad45"/>
<rect x="383.11" y="665.37" width="3.62" height="3.62" fill="#67ad45"/>
<rect x="394.79" y="667.94" width="3.62" height="3.62" fill="#67ad45"/>
<rect x="406.47" y="668.79" width="3.62" height="3.62" fill="#67ad45"/>
<rect x="418.15" y="668.79" width="3.62" height="3.62" fill="#67ad45"/>
<rect x="429.83" y="668.79" width="3.62" height="3.62" fill="#67ad45"/>
<line x1="314.84" y1="608.06" x2="314.84" y2="613.2" stroke="#e8921e" stroke-width="0.9"/>
<line x1="312.94" y1="608.06" x2="316.74" y2="608.06" stroke="#e8921e" stroke-width="0.9"/>
<line x1="312.94" y1="613.2" x2="316.74" y2="613.2" stroke="#e8921e" stroke-width="0.9"/>
<circle cx="314.84" cy="610.63" r="1.81" fill="#e8921e"/>
<line x1="326.52" y1="618.34" x2="326.52" y2="623.48" stroke="#e8921e" stroke-width="0.9"/>
<line x1="324.62" y1="618.34" x2="328.42" y2="618.34" stroke="#e8921e" stroke-width="0.9"/>
<line x1="324.62" y1="623.48" x2="328.42" y2="623.48" stroke="#e8921e" stroke-width="0.9"/>
<circle cx="326.52" cy="620.91" r="1.81" fill="#e8921e"/>
<line x1="338.2" y1="628.62" x2="338.2" y2="633.76" stroke="#e8921e" stroke-width="0.9"/>
<line x1="336.3" y1="628.62" x2="340.1" y2="628.62" stroke="#e8921e" stroke-width="0.9"/>
<line x1="336.3" y1="633.76" x2="340.1" y2="633.76" stroke="#e8921e" stroke-width="0.9"/>
<circle cx="338.2" cy="631.19" r="1.81" fill="#e8921e"/>
<line x1="349.88" y1="637.19" x2="349.88" y2="642.33" stroke="#e8921e" stroke-width="0.9"/>
<line x1="347.98" y1="637.19" x2="351.78" y2="637.19" stroke="#e8921e" stroke-width="0.9"/>
<line x1="347.98" y1="642.33" x2="351.78" y2="642.33" stroke="#e8921e" stroke-width="0.9"/>
<circle cx="349.88" cy="639.76" r="1.81" fill="#e8921e"/>
<line x1="361.56" y1="647.47" x2="361.56" y2="650.9" stroke="#e8921e" stroke-width="0.9"/>
<line x1="359.66" y1="647.47" x2="363.46" y2="647.47" stroke="#e8921e" stroke-width="0.9"/>
<line x1="359.66" y1="650.9" x2="363.46" y2="650.9" stroke="#e8921e" stroke-width="0.9"/>
<circle cx="361.56" cy="649.18" r="1.81" fill="#e8921e"/>
<line x1="373.24" y1="657.75" x2="373.24" y2="659.46" stroke="#e8921e" stroke-width="0.9"/>
<line x1="371.34" y1="657.75" x2="375.14" y2="657.75" stroke="#e8921e" stroke-width="0.9"/>
<line x1="371.34" y1="659.46" x2="375.14" y2="659.46" stroke="#e8921e" stroke-width="0.9"/>
<circle cx="373.24" cy="658.61" r="1.81" fill="#e8921e"/>
<circle cx="384.92" cy="665.46" r="1.81" fill="#e8921e"/>
<circle cx="396.6" cy="669.74" r="1.81" fill="#e8921e"/>
<circle cx="408.28" cy="670.6" r="1.81" fill="#e8921e"/>
<circle cx="419.96" cy="670.6" r="1.81" fill="#e8921e"/>
<circle cx="431.64" cy="670.6" r="1.81" fill="#e8921e"/>
<line x1="314.84" y1="579.45" x2="314.84" y2="582.87" stroke="#b4123c" stroke-width="0.9"/>
<line x1="312.94" y1="579.45" x2="316.74" y2="579.45" stroke="#b4123c" stroke-width="0.9"/>
<line x1="312.94" y1="582.87" x2="316.74" y2="582.87" stroke="#b4123c" stroke-width="0.9"/>
<path d="M314.84,583.24 L316.74,579.62 L312.94,579.62 Z" fill="#b4123c"/>
<line x1="326.52" y1="570.19" x2="326.52" y2="579.62" stroke="#b4123c" stroke-width="0.9"/>
<line x1="324.62" y1="570.19" x2="328.42" y2="570.19" stroke="#b4123c" stroke-width="0.9"/>
<line x1="324.62" y1="579.62" x2="328.42" y2="579.62" stroke="#b4123c" stroke-width="0.9"/>
<path d="M326.52,576.99 L328.42,573.37 L324.62,573.37 Z" fill="#b4123c"/>
<line x1="338.2" y1="570.11" x2="338.2" y2="581.25" stroke="#b4123c" stroke-width="0.9"/>
<line x1="336.3" y1="570.11" x2="340.1" y2="570.11" stroke="#b4123c" stroke-width="0.9"/>
<line x1="336.3" y1="581.25" x2="340.1" y2="581.25" stroke="#b4123c" stroke-width="0.9"/>
<path d="M338.2,577.76 L340.1,574.14 L336.3,574.14 Z" fill="#b4123c"/>
<line x1="349.88" y1="575.08" x2="349.88" y2="592.21" stroke="#b4123c" stroke-width="0.9"/>
<line x1="347.98" y1="575.08" x2="351.78" y2="575.08" stroke="#b4123c" stroke-width="0.9"/>
<line x1="347.98" y1="592.21" x2="351.78" y2="592.21" stroke="#b4123c" stroke-width="0.9"/>
<path d="M349.88,585.72 L351.78,582.11 L347.98,582.11 Z" fill="#b4123c"/>
<line x1="361.56" y1="585.87" x2="361.56" y2="606.43" stroke="#b4123c" stroke-width="0.9"/>
<line x1="359.66" y1="585.87" x2="363.46" y2="585.87" stroke="#b4123c" stroke-width="0.9"/>
<line x1="359.66" y1="606.43" x2="363.46" y2="606.43" stroke="#b4123c" stroke-width="0.9"/>
<path d="M361.56,598.23 L363.46,594.62 L359.66,594.62 Z" fill="#b4123c"/>
<line x1="373.24" y1="611.92" x2="373.24" y2="629.91" stroke="#b4123c" stroke-width="0.9"/>
<line x1="371.34" y1="611.92" x2="375.14" y2="611.92" stroke="#b4123c" stroke-width="0.9"/>
<line x1="371.34" y1="629.91" x2="375.14" y2="629.91" stroke="#b4123c" stroke-width="0.9"/>
<path d="M373.24,622.99 L375.14,619.37 L371.34,619.37 Z" fill="#b4123c"/>
<line x1="384.92" y1="645.67" x2="384.92" y2="649.1" stroke="#b4123c" stroke-width="0.9"/>
<line x1="383.02" y1="645.67" x2="386.82" y2="645.67" stroke="#b4123c" stroke-width="0.9"/>
<line x1="383.02" y1="649.1" x2="386.82" y2="649.1" stroke="#b4123c" stroke-width="0.9"/>
<path d="M384.92,649.46 L386.82,645.85 L383.02,645.85 Z" fill="#b4123c"/>
<path d="M396.6,668.22 L398.5,664.61 L394.7,664.61 Z" fill="#b4123c"/>
<path d="M408.28,672.68 L410.18,669.06 L406.38,669.06 Z" fill="#b4123c"/>
<circle cx="280.5" cy="584.93" r="2.15" fill="#67ad45"/>
<line x1="456.3" y1="599" x2="465.5" y2="599" stroke="#e8921e" stroke-width="1.1"/>
<circle cx="460.9" cy="599" r="2.15" fill="#e8921e"/>
<text x="468.9" y="602" font-size="8.8" textLength="31.1" lengthAdjust="spacingAndGlyphs">Parental</text>
<line x1="456.3" y1="611.6" x2="465.5" y2="611.6" stroke="#67ad45" stroke-width="1.1"/>
<rect x="458.75" y="609.45" width="4.29" height="4.29" fill="#67ad45"/>
<text x="468.9" y="614.6" font-size="8.8" textLength="20.3" lengthAdjust="spacingAndGlyphs">JAK2</text>
<text x="489.6" y="611.1" font-size="5.4" textLength="7.1" lengthAdjust="spacingAndGlyphs">WT</text>
<line x1="456.3" y1="624.1" x2="465.5" y2="624.1" stroke="#24468a" stroke-width="1.1"/>
<path d="M460.9,621.63 L463.15,625.92 L458.65,625.92 Z" fill="#24468a"/>
<text x="468.9" y="627.1" font-size="8.8" textLength="20.3" lengthAdjust="spacingAndGlyphs">JAK2</text>
<text x="489.6" y="623.6" font-size="5.4" textLength="11.5" lengthAdjust="spacingAndGlyphs">V617F</text>
<line x1="456.3" y1="635.8" x2="465.5" y2="635.8" stroke="#b4123c" stroke-width="1.1"/>
<path d="M460.9,638.27 L463.15,633.98 L458.65,633.98 Z" fill="#b4123c"/>
<text x="468.9" y="638.8" font-size="8.8" textLength="20.3" lengthAdjust="spacingAndGlyphs">JAK2</text>
<text x="489.6" y="635.3" font-size="5.4" textLength="22.7" lengthAdjust="spacingAndGlyphs">ex13InDel</text>
</g>
<rect x="0.5" y="0.5" width="519" height="709" fill="none" stroke="#000" stroke-width="1"/>
</svg>
</body></html>
